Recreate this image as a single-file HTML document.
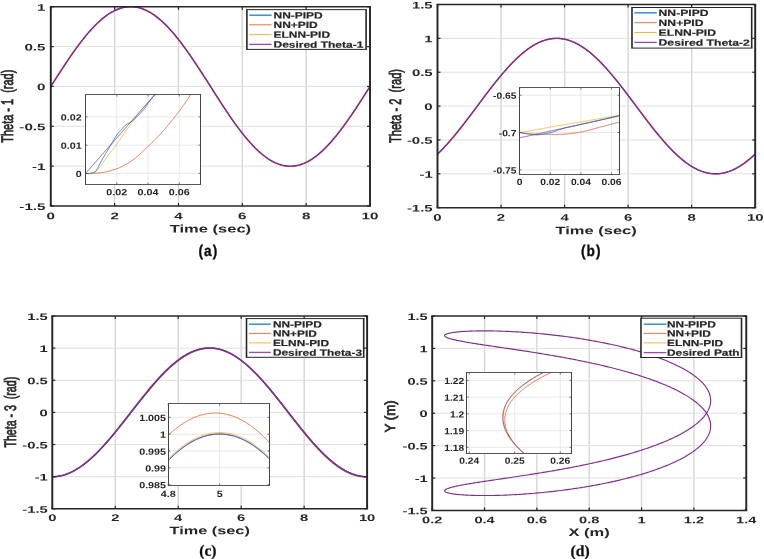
<!DOCTYPE html>
<html lang="en">
<head>
<meta charset="utf-8">
<title>Joint tracking results</title>
<style>
html,body{margin:0;padding:0;background:#fff;}
body{width:764px;height:559px;overflow:hidden;}
svg{display:block;font-family:"Liberation Sans", Arial, Helvetica, sans-serif;text-rendering:geometricPrecision;}
</style>
</head>
<body>
<svg width="764" height="559" viewBox="0 0 764 559">
<defs><filter id="soft" x="-2%" y="-2%" width="104%" height="104%"><feGaussianBlur stdDeviation="0.45"/></filter></defs>
<rect width="764" height="559" fill="#fff"/>
<g filter="url(#soft)">
<rect x="50.8" y="6.75" width="319.2" height="199.25" fill="#fff"/>
<line x1="114.64" y1="6.75" x2="114.64" y2="206" stroke="#d5d5d5" stroke-width="1.38"/>
<line x1="178.48" y1="6.75" x2="178.48" y2="206" stroke="#d5d5d5" stroke-width="1.38"/>
<line x1="242.32" y1="6.75" x2="242.32" y2="206" stroke="#d5d5d5" stroke-width="1.38"/>
<line x1="306.16" y1="6.75" x2="306.16" y2="206" stroke="#d5d5d5" stroke-width="1.38"/>
<line x1="50.8" y1="166.15" x2="370" y2="166.15" stroke="#dfdfdf" stroke-width="1"/>
<line x1="50.8" y1="126.3" x2="370" y2="126.3" stroke="#dfdfdf" stroke-width="1"/>
<line x1="50.8" y1="86.45" x2="370" y2="86.45" stroke="#dfdfdf" stroke-width="1"/>
<line x1="50.8" y1="46.6" x2="370" y2="46.6" stroke="#dfdfdf" stroke-width="1"/>
<clipPath id="c1"><rect x="50.8" y="6.75" width="319.2" height="199.25"/></clipPath>
<g clip-path="url(#c1)">
<polyline points="50.8,86.77 51.44,85.76 52.08,84.76 52.72,83.76 53.35,82.75 53.99,81.75 54.63,80.75 55.27,79.74 55.91,78.74 56.55,77.75 57.18,76.75 57.82,75.75 58.46,74.76 59.1,73.76 59.74,72.77 60.38,71.78 61.01,70.8 61.65,69.81 62.29,68.83 62.93,67.85 63.57,66.88 64.21,65.91 64.84,64.94 65.48,63.97 66.12,63.01 66.76,62.05 67.4,61.1 68.04,60.15 68.68,59.2 69.31,58.26 69.95,57.32 70.59,56.39 71.23,55.46 71.87,54.53 72.51,53.62 73.14,52.7 73.78,51.79 74.42,50.89 75.06,49.99 75.7,49.1 76.34,48.22 76.97,47.34 77.61,46.47 78.25,45.6 78.89,44.74 79.53,43.89 80.17,43.04 80.8,42.2 81.44,41.37 82.08,40.54 82.72,39.72 83.36,38.91 84,38.11 84.64,37.31 85.27,36.52 85.91,35.74 86.55,34.97 87.19,34.2 87.83,33.45 88.47,32.7 89.1,31.96 89.74,31.23 90.38,30.51 91.02,29.79 91.66,29.09 92.3,28.4 92.93,27.71 93.57,27.03 94.21,26.37 94.85,25.71 95.49,25.06 96.13,24.42 96.76,23.79 97.4,23.17 98.04,22.56 98.68,21.97 99.32,21.38 99.96,20.8 100.6,20.23 101.23,19.67 101.87,19.13 102.51,18.59 103.15,18.06 103.79,17.55 104.43,17.05 105.06,16.55 105.7,16.07 106.34,15.6 106.98,15.14 107.62,14.69 108.26,14.25 108.89,13.83 109.53,13.41 110.17,13.01 110.81,12.62 111.45,12.24 112.09,11.87 112.72,11.52 113.36,11.17 114,10.84 114.64,10.52 115.28,10.21 115.92,9.92 116.56,9.63 117.19,9.36 117.83,9.1 118.47,8.85 119.11,8.62 119.75,8.4 120.39,8.18 121.02,7.99 121.66,7.8 122.3,7.63 122.94,7.47 123.58,7.32 124.22,7.18 124.85,7.06 125.49,6.95 126.13,6.85 126.77,6.76 127.41,6.69 128.05,6.63 128.68,6.58 129.32,6.54 129.96,6.52 130.6,6.51 131.24,6.51 131.88,6.53 132.52,6.56 133.15,6.6 133.79,6.65 134.43,6.71 135.07,6.79 135.71,6.88 136.35,6.99 136.98,7.1 137.62,7.23 138.26,7.37 138.9,7.52 139.54,7.69 140.18,7.87 140.81,8.06 141.45,8.26 142.09,8.48 142.73,8.7 143.37,8.94 144.01,9.2 144.64,9.46 145.28,9.74 145.92,10.02 146.56,10.32 147.2,10.64 147.84,10.96 148.48,11.3 149.11,11.65 149.75,12.01 150.39,12.38 151.03,12.76 151.67,13.16 152.31,13.56 152.94,13.98 153.58,14.41 154.22,14.85 154.86,15.31 155.5,15.77 156.14,16.25 156.77,16.73 157.41,17.23 158.05,17.74 158.69,18.25 159.33,18.78 159.97,19.32 160.6,19.88 161.24,20.44 161.88,21.01 162.52,21.59 163.16,22.18 163.8,22.79 164.44,23.4 165.07,24.02 165.71,24.65 166.35,25.29 166.99,25.95 167.63,26.61 168.27,27.28 168.9,27.96 169.54,28.65 170.18,29.35 170.82,30.05 171.46,30.77 172.1,31.5 172.73,32.23 173.37,32.97 174.01,33.72 174.65,34.48 175.29,35.25 175.93,36.02 176.56,36.81 177.2,37.6 177.84,38.4 178.48,39.21 179.12,40.02 179.76,40.84 180.4,41.67 181.03,42.5 181.67,43.35 182.31,44.2 182.95,45.05 183.59,45.92 184.23,46.78 184.86,47.66 185.5,48.54 186.14,49.43 186.78,50.32 187.42,51.22 188.06,52.13 188.69,53.04 189.33,53.95 189.97,54.87 190.61,55.8 191.25,56.73 191.89,57.66 192.52,58.6 193.16,59.54 193.8,60.49 194.44,61.44 195.08,62.4 195.72,63.36 196.36,64.32 196.99,65.29 197.63,66.26 198.27,67.23 198.91,68.21 199.55,69.19 200.19,70.17 200.82,71.16 201.46,72.14 202.1,73.13 202.74,74.13 203.38,75.12 204.02,76.11 204.65,77.11 205.29,78.11 205.93,79.11 206.57,80.11 207.21,81.11 207.85,82.12 208.48,83.12 209.12,84.12 209.76,85.13 210.4,86.13 211.04,87.14 211.68,88.14 212.32,89.14 212.95,90.15 213.59,91.15 214.23,92.15 214.87,93.16 215.51,94.16 216.15,95.15 216.78,96.15 217.42,97.15 218.06,98.14 218.7,99.14 219.34,100.13 219.98,101.12 220.61,102.1 221.25,103.09 221.89,104.07 222.53,105.05 223.17,106.02 223.81,106.99 224.44,107.96 225.08,108.93 225.72,109.89 226.36,110.85 227,111.8 227.64,112.75 228.28,113.7 228.91,114.64 229.55,115.58 230.19,116.51 230.83,117.44 231.47,118.37 232.11,119.28 232.74,120.2 233.38,121.11 234.02,122.01 234.66,122.91 235.3,123.8 235.94,124.68 236.57,125.56 237.21,126.43 237.85,127.3 238.49,128.16 239.13,129.01 239.77,129.86 240.4,130.7 241.04,131.53 241.68,132.36 242.32,133.18 242.96,133.99 243.6,134.79 244.24,135.59 244.87,136.38 245.51,137.16 246.15,137.93 246.79,138.7 247.43,139.45 248.07,140.2 248.7,140.94 249.34,141.67 249.98,142.39 250.62,143.11 251.26,143.81 251.9,144.5 252.53,145.19 253.17,145.87 253.81,146.53 254.45,147.19 255.09,147.84 255.73,148.48 256.36,149.11 257,149.73 257.64,150.34 258.28,150.93 258.92,151.52 259.56,152.1 260.2,152.67 260.83,153.23 261.47,153.77 262.11,154.31 262.75,154.84 263.39,155.35 264.03,155.85 264.66,156.35 265.3,156.83 265.94,157.3 266.58,157.76 267.22,158.21 267.86,158.65 268.49,159.07 269.13,159.49 269.77,159.89 270.41,160.28 271.05,160.66 271.69,161.03 272.32,161.38 272.96,161.73 273.6,162.06 274.24,162.38 274.88,162.69 275.52,162.98 276.16,163.27 276.79,163.54 277.43,163.8 278.07,164.05 278.71,164.28 279.35,164.5 279.99,164.72 280.62,164.91 281.26,165.1 281.9,165.27 282.54,165.43 283.18,165.58 283.82,165.72 284.45,165.84 285.09,165.95 285.73,166.05 286.37,166.14 287.01,166.21 287.65,166.27 288.28,166.32 288.92,166.36 289.56,166.38 290.2,166.39 290.84,166.39 291.48,166.37 292.12,166.34 292.75,166.3 293.39,166.25 294.03,166.19 294.67,166.11 295.31,166.02 295.95,165.91 296.58,165.8 297.22,165.67 297.86,165.53 298.5,165.38 299.14,165.21 299.78,165.03 300.41,164.84 301.05,164.64 301.69,164.42 302.33,164.2 302.97,163.96 303.61,163.7 304.24,163.44 304.88,163.16 305.52,162.88 306.16,162.58 306.8,162.26 307.44,161.94 308.08,161.6 308.71,161.25 309.35,160.89 309.99,160.52 310.63,160.14 311.27,159.74 311.91,159.34 312.54,158.92 313.18,158.49 313.82,158.05 314.46,157.59 315.1,157.13 315.74,156.65 316.37,156.17 317.01,155.67 317.65,155.16 318.29,154.65 318.93,154.12 319.57,153.58 320.2,153.02 320.84,152.46 321.48,151.89 322.12,151.31 322.76,150.72 323.4,150.11 324.04,149.5 324.67,148.88 325.31,148.25 325.95,147.61 326.59,146.95 327.23,146.29 327.87,145.62 328.5,144.94 329.14,144.25 329.78,143.55 330.42,142.85 331.06,142.13 331.7,141.4 332.33,140.67 332.97,139.93 333.61,139.18 334.25,138.42 334.89,137.65 335.53,136.88 336.16,136.09 336.8,135.3 337.44,134.5 338.08,133.69 338.72,132.88 339.36,132.06 340,131.23 340.63,130.4 341.27,129.55 341.91,128.7 342.55,127.85 343.19,126.98 343.83,126.12 344.46,125.24 345.1,124.36 345.74,123.47 346.38,122.58 347.02,121.68 347.66,120.77 348.29,119.86 348.93,118.95 349.57,118.03 350.21,117.1 350.85,116.17 351.49,115.24 352.12,114.3 352.76,113.36 353.4,112.41 354.04,111.46 354.68,110.5 355.32,109.54 355.96,108.58 356.59,107.61 357.23,106.64 357.87,105.67 358.51,104.69 359.15,103.71 359.79,102.73 360.42,101.74 361.06,100.76 361.7,99.77 362.34,98.77 362.98,97.78 363.62,96.79 364.25,95.79 364.89,94.79 365.53,93.79 366.17,92.79 366.81,91.79 367.45,90.78 368.08,89.78 368.72,88.78 369.36,87.77 370,86.77" fill="none" stroke="#D95319" stroke-width="1.2" stroke-linejoin="round"/>
<polyline points="50.8,86.45 51.44,85.45 52.08,84.45 52.72,83.45 53.35,82.45 53.99,81.45 54.63,80.45 55.27,79.45 55.91,78.45 56.55,77.46 57.18,76.46 57.82,75.47 58.46,74.48 59.1,73.49 59.74,72.5 60.38,71.52 61.01,70.53 61.65,69.55 62.29,68.58 62.93,67.6 63.57,66.63 64.21,65.66 64.84,64.7 65.48,63.73 66.12,62.78 66.76,61.82 67.4,60.87 68.04,59.92 68.68,58.98 69.31,58.04 69.95,57.11 70.59,56.18 71.23,55.26 71.87,54.34 72.51,53.42 73.14,52.52 73.78,51.61 74.42,50.71 75.06,49.82 75.7,48.93 76.34,48.05 76.97,47.18 77.61,46.31 78.25,45.45 78.89,44.59 79.53,43.74 80.17,42.9 80.8,42.07 81.44,41.24 82.08,40.42 82.72,39.6 83.36,38.8 84,38 84.64,37.21 85.27,36.42 85.91,35.65 86.55,34.88 87.19,34.12 87.83,33.37 88.47,32.63 89.1,31.89 89.74,31.17 90.38,30.45 91.02,29.74 91.66,29.04 92.3,28.35 92.93,27.67 93.57,27 94.21,26.34 94.85,25.68 95.49,25.04 96.13,24.41 96.76,23.78 97.4,23.17 98.04,22.57 98.68,21.97 99.32,21.39 99.96,20.81 100.6,20.25 101.23,19.7 101.87,19.16 102.51,18.63 103.15,18.11 103.79,17.6 104.43,17.1 105.06,16.61 105.7,16.13 106.34,15.67 106.98,15.21 107.62,14.77 108.26,14.34 108.89,13.91 109.53,13.51 110.17,13.11 110.81,12.72 111.45,12.35 112.09,11.98 112.72,11.63 113.36,11.29 114,10.97 114.64,10.65 115.28,10.35 115.92,10.06 116.56,9.78 117.19,9.51 117.83,9.25 118.47,9.01 119.11,8.78 119.75,8.56 120.39,8.36 121.02,8.16 121.66,7.98 122.3,7.81 122.94,7.65 123.58,7.51 124.22,7.38 124.85,7.26 125.49,7.15 126.13,7.06 126.77,6.98 127.41,6.91 128.05,6.85 128.68,6.81 129.32,6.78 129.96,6.76 130.6,6.75 131.24,6.76 131.88,6.78 132.52,6.81 133.15,6.85 133.79,6.91 134.43,6.98 135.07,7.06 135.71,7.15 136.35,7.26 136.98,7.38 137.62,7.51 138.26,7.65 138.9,7.81 139.54,7.98 140.18,8.16 140.81,8.36 141.45,8.56 142.09,8.78 142.73,9.01 143.37,9.25 144.01,9.51 144.64,9.78 145.28,10.06 145.92,10.35 146.56,10.65 147.2,10.97 147.84,11.29 148.48,11.63 149.11,11.98 149.75,12.35 150.39,12.72 151.03,13.11 151.67,13.51 152.31,13.91 152.94,14.34 153.58,14.77 154.22,15.21 154.86,15.67 155.5,16.13 156.14,16.61 156.77,17.1 157.41,17.6 158.05,18.11 158.69,18.63 159.33,19.16 159.97,19.7 160.6,20.25 161.24,20.81 161.88,21.39 162.52,21.97 163.16,22.57 163.8,23.17 164.44,23.78 165.07,24.41 165.71,25.04 166.35,25.68 166.99,26.34 167.63,27 168.27,27.67 168.9,28.35 169.54,29.04 170.18,29.74 170.82,30.45 171.46,31.17 172.1,31.89 172.73,32.63 173.37,33.37 174.01,34.12 174.65,34.88 175.29,35.65 175.93,36.42 176.56,37.21 177.2,38 177.84,38.8 178.48,39.6 179.12,40.42 179.76,41.24 180.4,42.07 181.03,42.9 181.67,43.74 182.31,44.59 182.95,45.45 183.59,46.31 184.23,47.18 184.86,48.05 185.5,48.93 186.14,49.82 186.78,50.71 187.42,51.61 188.06,52.52 188.69,53.42 189.33,54.34 189.97,55.26 190.61,56.18 191.25,57.11 191.89,58.04 192.52,58.98 193.16,59.92 193.8,60.87 194.44,61.82 195.08,62.78 195.72,63.73 196.36,64.7 196.99,65.66 197.63,66.63 198.27,67.6 198.91,68.58 199.55,69.55 200.19,70.53 200.82,71.52 201.46,72.5 202.1,73.49 202.74,74.48 203.38,75.47 204.02,76.46 204.65,77.46 205.29,78.45 205.93,79.45 206.57,80.45 207.21,81.45 207.85,82.45 208.48,83.45 209.12,84.45 209.76,85.45 210.4,86.45 211.04,87.45 211.68,88.45 212.32,89.45 212.95,90.45 213.59,91.45 214.23,92.45 214.87,93.45 215.51,94.45 216.15,95.44 216.78,96.44 217.42,97.43 218.06,98.42 218.7,99.41 219.34,100.4 219.98,101.38 220.61,102.37 221.25,103.35 221.89,104.32 222.53,105.3 223.17,106.27 223.81,107.24 224.44,108.2 225.08,109.17 225.72,110.12 226.36,111.08 227,112.03 227.64,112.98 228.28,113.92 228.91,114.86 229.55,115.79 230.19,116.72 230.83,117.64 231.47,118.56 232.11,119.48 232.74,120.38 233.38,121.29 234.02,122.19 234.66,123.08 235.3,123.97 235.94,124.85 236.57,125.72 237.21,126.59 237.85,127.45 238.49,128.31 239.13,129.16 239.77,130 240.4,130.83 241.04,131.66 241.68,132.48 242.32,133.3 242.96,134.1 243.6,134.9 244.24,135.69 244.87,136.48 245.51,137.25 246.15,138.02 246.79,138.78 247.43,139.53 248.07,140.27 248.7,141.01 249.34,141.73 249.98,142.45 250.62,143.16 251.26,143.86 251.9,144.55 252.53,145.23 253.17,145.9 253.81,146.56 254.45,147.22 255.09,147.86 255.73,148.49 256.36,149.12 257,149.73 257.64,150.33 258.28,150.93 258.92,151.51 259.56,152.09 260.2,152.65 260.83,153.2 261.47,153.74 262.11,154.27 262.75,154.79 263.39,155.3 264.03,155.8 264.66,156.29 265.3,156.77 265.94,157.23 266.58,157.69 267.22,158.13 267.86,158.56 268.49,158.99 269.13,159.39 269.77,159.79 270.41,160.18 271.05,160.55 271.69,160.92 272.32,161.27 272.96,161.61 273.6,161.93 274.24,162.25 274.88,162.55 275.52,162.84 276.16,163.12 276.79,163.39 277.43,163.65 278.07,163.89 278.71,164.12 279.35,164.34 279.99,164.54 280.62,164.74 281.26,164.92 281.9,165.09 282.54,165.25 283.18,165.39 283.82,165.52 284.45,165.64 285.09,165.75 285.73,165.84 286.37,165.92 287.01,165.99 287.65,166.05 288.28,166.09 288.92,166.12 289.56,166.14 290.2,166.15 290.84,166.14 291.48,166.12 292.12,166.09 292.75,166.05 293.39,165.99 294.03,165.92 294.67,165.84 295.31,165.75 295.95,165.64 296.58,165.52 297.22,165.39 297.86,165.25 298.5,165.09 299.14,164.92 299.78,164.74 300.41,164.54 301.05,164.34 301.69,164.12 302.33,163.89 302.97,163.65 303.61,163.39 304.24,163.12 304.88,162.84 305.52,162.55 306.16,162.25 306.8,161.93 307.44,161.61 308.08,161.27 308.71,160.92 309.35,160.55 309.99,160.18 310.63,159.79 311.27,159.39 311.91,158.99 312.54,158.56 313.18,158.13 313.82,157.69 314.46,157.23 315.1,156.77 315.74,156.29 316.37,155.8 317.01,155.3 317.65,154.79 318.29,154.27 318.93,153.74 319.57,153.2 320.2,152.65 320.84,152.09 321.48,151.51 322.12,150.93 322.76,150.33 323.4,149.73 324.04,149.12 324.67,148.49 325.31,147.86 325.95,147.22 326.59,146.56 327.23,145.9 327.87,145.23 328.5,144.55 329.14,143.86 329.78,143.16 330.42,142.45 331.06,141.73 331.7,141.01 332.33,140.27 332.97,139.53 333.61,138.78 334.25,138.02 334.89,137.25 335.53,136.48 336.16,135.69 336.8,134.9 337.44,134.1 338.08,133.3 338.72,132.48 339.36,131.66 340,130.83 340.63,130 341.27,129.16 341.91,128.31 342.55,127.45 343.19,126.59 343.83,125.72 344.46,124.85 345.1,123.97 345.74,123.08 346.38,122.19 347.02,121.29 347.66,120.38 348.29,119.48 348.93,118.56 349.57,117.64 350.21,116.72 350.85,115.79 351.49,114.86 352.12,113.92 352.76,112.98 353.4,112.03 354.04,111.08 354.68,110.12 355.32,109.17 355.96,108.2 356.59,107.24 357.23,106.27 357.87,105.3 358.51,104.32 359.15,103.35 359.79,102.37 360.42,101.38 361.06,100.4 361.7,99.41 362.34,98.42 362.98,97.43 363.62,96.44 364.25,95.44 364.89,94.45 365.53,93.45 366.17,92.45 366.81,91.45 367.45,90.45 368.08,89.45 368.72,88.45 369.36,87.45 370,86.45" fill="none" stroke="#7E2F8E" stroke-width="1.45" stroke-linejoin="round"/>
</g>
<line x1="50.8" y1="206" x2="50.8" y2="203" stroke="#262626" stroke-width="1.2"/>
<line x1="50.8" y1="6.75" x2="50.8" y2="9.75" stroke="#262626" stroke-width="1.2"/>
<line x1="114.64" y1="206" x2="114.64" y2="203" stroke="#262626" stroke-width="1.2"/>
<line x1="114.64" y1="6.75" x2="114.64" y2="9.75" stroke="#262626" stroke-width="1.2"/>
<line x1="178.48" y1="206" x2="178.48" y2="203" stroke="#262626" stroke-width="1.2"/>
<line x1="178.48" y1="6.75" x2="178.48" y2="9.75" stroke="#262626" stroke-width="1.2"/>
<line x1="242.32" y1="206" x2="242.32" y2="203" stroke="#262626" stroke-width="1.2"/>
<line x1="242.32" y1="6.75" x2="242.32" y2="9.75" stroke="#262626" stroke-width="1.2"/>
<line x1="306.16" y1="206" x2="306.16" y2="203" stroke="#262626" stroke-width="1.2"/>
<line x1="306.16" y1="6.75" x2="306.16" y2="9.75" stroke="#262626" stroke-width="1.2"/>
<line x1="370" y1="206" x2="370" y2="203" stroke="#262626" stroke-width="1.2"/>
<line x1="370" y1="6.75" x2="370" y2="9.75" stroke="#262626" stroke-width="1.2"/>
<line x1="50.8" y1="206" x2="53.8" y2="206" stroke="#262626" stroke-width="1.2"/>
<line x1="370" y1="206" x2="367" y2="206" stroke="#262626" stroke-width="1.2"/>
<line x1="50.8" y1="166.15" x2="53.8" y2="166.15" stroke="#262626" stroke-width="1.2"/>
<line x1="370" y1="166.15" x2="367" y2="166.15" stroke="#262626" stroke-width="1.2"/>
<line x1="50.8" y1="126.3" x2="53.8" y2="126.3" stroke="#262626" stroke-width="1.2"/>
<line x1="370" y1="126.3" x2="367" y2="126.3" stroke="#262626" stroke-width="1.2"/>
<line x1="50.8" y1="86.45" x2="53.8" y2="86.45" stroke="#262626" stroke-width="1.2"/>
<line x1="370" y1="86.45" x2="367" y2="86.45" stroke="#262626" stroke-width="1.2"/>
<line x1="50.8" y1="46.6" x2="53.8" y2="46.6" stroke="#262626" stroke-width="1.2"/>
<line x1="370" y1="46.6" x2="367" y2="46.6" stroke="#262626" stroke-width="1.2"/>
<line x1="50.8" y1="6.75" x2="53.8" y2="6.75" stroke="#262626" stroke-width="1.2"/>
<line x1="370" y1="6.75" x2="367" y2="6.75" stroke="#262626" stroke-width="1.2"/>
<line x1="49.82" y1="6.75" x2="370.98" y2="6.75" stroke="#262626" stroke-width="1.5"/>
<line x1="49.82" y1="206" x2="370.98" y2="206" stroke="#262626" stroke-width="1.5"/>
<line x1="50.8" y1="6.75" x2="50.8" y2="206" stroke="#262626" stroke-width="1.95"/>
<line x1="370" y1="6.75" x2="370" y2="206" stroke="#262626" stroke-width="1.95"/>
<text transform="translate(50.8 219.14) rotate(0.03) scale(1.58 1)" font-size="9.6" font-weight="bold" text-anchor="middle" fill="#262626">0</text>
<text transform="translate(114.64 219.14) rotate(0.03) scale(1.58 1)" font-size="9.6" font-weight="bold" text-anchor="middle" fill="#262626">2</text>
<text transform="translate(178.48 219.14) rotate(0.03) scale(1.58 1)" font-size="9.6" font-weight="bold" text-anchor="middle" fill="#262626">4</text>
<text transform="translate(242.32 219.14) rotate(0.03) scale(1.58 1)" font-size="9.6" font-weight="bold" text-anchor="middle" fill="#262626">6</text>
<text transform="translate(306.16 219.14) rotate(0.03) scale(1.58 1)" font-size="9.6" font-weight="bold" text-anchor="middle" fill="#262626">8</text>
<text transform="translate(370 219.14) rotate(0.03) scale(1.58 1)" font-size="9.6" font-weight="bold" text-anchor="middle" fill="#262626">10</text>
<text transform="translate(45.5 209.89) rotate(0.03) scale(1.58 1)" font-size="9.6" font-weight="bold" text-anchor="end" fill="#262626">-1.5</text>
<text transform="translate(45.5 170.04) rotate(0.03) scale(1.58 1)" font-size="9.6" font-weight="bold" text-anchor="end" fill="#262626">-1</text>
<text transform="translate(45.5 130.19) rotate(0.03) scale(1.58 1)" font-size="9.6" font-weight="bold" text-anchor="end" fill="#262626">-0.5</text>
<text transform="translate(45.5 90.34) rotate(0.03) scale(1.58 1)" font-size="9.6" font-weight="bold" text-anchor="end" fill="#262626">0</text>
<text transform="translate(45.5 50.49) rotate(0.03) scale(1.58 1)" font-size="9.6" font-weight="bold" text-anchor="end" fill="#262626">0.5</text>
<text transform="translate(45.5 10.64) rotate(0.03) scale(1.58 1)" font-size="9.6" font-weight="bold" text-anchor="end" fill="#262626">1</text>
<text transform="translate(210.4 232.5) rotate(0.03) scale(1.5 1)" font-size="11" font-weight="bold" text-anchor="middle" fill="#262626">Time (sec)</text>
<text transform="translate(13.4 106.2) rotate(-90) scale(0.66 1)" font-size="16.6" font-weight="normal" text-anchor="middle" fill="#262626" stroke="#262626" stroke-width="0.75">Theta - 1&#160;&#160;(rad)</text>
<rect x="246.9" y="9.65" width="119.2" height="39.75" fill="#fff"/>
<line x1="246.1" y1="9.65" x2="366.9" y2="9.65" stroke="#262626" stroke-width="1"/>
<line x1="246.1" y1="49.4" x2="366.9" y2="49.4" stroke="#262626" stroke-width="1"/>
<line x1="246.9" y1="9.65" x2="246.9" y2="49.4" stroke="#262626" stroke-width="1.6"/>
<line x1="366.1" y1="9.65" x2="366.1" y2="49.4" stroke="#262626" stroke-width="1.6"/>
<line x1="249.2" y1="15.2" x2="271.6" y2="15.2" stroke="#3a8fd0" stroke-width="1.5" stroke-opacity="1"/>
<text transform="translate(273.5 18.42) rotate(0.03) scale(1.33 1)" font-size="9" font-weight="bold" text-anchor="start" fill="#262626" stroke="#262626" stroke-width="0.18">NN-PIPD</text>
<line x1="249.2" y1="24.8" x2="271.6" y2="24.8" stroke="#D95319" stroke-width="0.8" stroke-opacity="1"/>
<text transform="translate(273.5 28.02) rotate(0.03) scale(1.33 1)" font-size="9" font-weight="bold" text-anchor="start" fill="#262626" stroke="#262626" stroke-width="0.18">NN+PID</text>
<line x1="249.2" y1="34.6" x2="271.6" y2="34.6" stroke="#EDB120" stroke-width="0.9" stroke-opacity="1"/>
<text transform="translate(273.5 37.82) rotate(0.03) scale(1.33 1)" font-size="9" font-weight="bold" text-anchor="start" fill="#262626" stroke="#262626" stroke-width="0.18">ELNN-PID</text>
<line x1="249.2" y1="44.4" x2="271.6" y2="44.4" stroke="#9450a5" stroke-width="1.3" stroke-opacity="1"/>
<text transform="translate(273.5 47.62) rotate(0.03) scale(1.33 1)" font-size="9" font-weight="bold" text-anchor="start" fill="#262626" stroke="#262626" stroke-width="0.18">Desired Theta-1</text>
<rect x="85.5" y="94.5" width="115" height="90" fill="#fff"/>
<line x1="116.8" y1="94.5" x2="116.8" y2="184.5" stroke="#e2e2e2" stroke-width="0.8"/>
<line x1="148.05" y1="94.5" x2="148.05" y2="184.5" stroke="#e2e2e2" stroke-width="0.8"/>
<line x1="179.3" y1="94.5" x2="179.3" y2="184.5" stroke="#e2e2e2" stroke-width="0.8"/>
<line x1="85.5" y1="173.4" x2="200.5" y2="173.4" stroke="#e2e2e2" stroke-width="0.8"/>
<line x1="85.5" y1="145.15" x2="200.5" y2="145.15" stroke="#e2e2e2" stroke-width="0.8"/>
<line x1="85.5" y1="116.9" x2="200.5" y2="116.9" stroke="#e2e2e2" stroke-width="0.8"/>
<clipPath id="c2"><rect x="85.5" y="94.5" width="115" height="90"/></clipPath>
<g clip-path="url(#c2)">
<polyline points="85.55,173.4 86.14,173.4 86.73,173.4 87.32,173.39 87.91,173.38 88.49,173.37 89.08,173.36 89.67,173.34 90.26,173.32 90.85,173.31 91.44,173.29 92.03,173.26 92.62,173.24 93.21,173.21 93.79,173.19 94.38,173.16 94.97,173.13 95.56,173.09 96.15,173.06 96.74,173.03 97.33,172.99 97.92,172.96 98.51,172.92 99.09,172.88 99.68,172.84 100.27,172.8 100.86,172.74 101.45,172.68 102.04,172.61 102.63,172.53 103.22,172.44 103.81,172.34 104.39,172.23 104.98,172.11 105.57,171.99 106.16,171.86 106.75,171.73 107.34,171.59 107.93,171.44 108.52,171.29 109.11,171.13 109.69,170.97 110.28,170.81 110.87,170.64 111.46,170.46 112.05,170.29 112.64,170.11 113.23,169.93 113.82,169.75 114.41,169.56 114.99,169.38 115.58,169.19 116.17,169 116.76,168.79 117.35,168.57 117.94,168.34 118.53,168.1 119.12,167.86 119.71,167.6 120.29,167.34 120.88,167.06 121.47,166.78 122.06,166.49 122.65,166.19 123.24,165.89 123.83,165.57 124.42,165.25 125.01,164.93 125.59,164.6 126.18,164.26 126.77,163.91 127.36,163.56 127.95,163.21 128.54,162.85 129.13,162.49 129.72,162.12 130.31,161.75 130.89,161.37 131.48,160.99 132.07,160.58 132.66,160.16 133.25,159.73 133.84,159.28 134.43,158.82 135.02,158.34 135.6,157.86 136.19,157.36 136.78,156.85 137.37,156.33 137.96,155.81 138.55,155.28 139.14,154.74 139.73,154.19 140.32,153.64 140.9,153.09 141.49,152.54 142.08,151.98 142.67,151.42 143.26,150.86 143.85,150.3 144.44,149.75 145.03,149.19 145.62,148.64 146.2,148.09 146.79,147.55 147.38,147 147.97,146.45 148.56,145.9 149.15,145.35 149.74,144.79 150.33,144.23 150.92,143.67 151.5,143.11 152.09,142.54 152.68,141.96 153.27,141.39 153.86,140.81 154.45,140.22 155.04,139.63 155.63,139.04 156.22,138.44 156.8,137.83 157.39,137.22 157.98,136.61 158.57,135.99 159.16,135.36 159.75,134.73 160.34,134.09 160.93,133.44 161.52,132.8 162.1,132.14 162.69,131.49 163.28,130.83 163.87,130.16 164.46,129.49 165.05,128.81 165.64,128.13 166.23,127.44 166.82,126.75 167.4,126.06 167.99,125.36 168.58,124.66 169.17,123.95 169.76,123.24 170.35,122.52 170.94,121.8 171.53,121.07 172.12,120.34 172.7,119.61 173.29,118.87 173.88,118.13 174.47,117.39 175.06,116.64 175.65,115.88 176.24,115.12 176.83,114.36 177.42,113.59 178,112.81 178.59,112.03 179.18,111.24 179.77,110.44 180.36,109.63 180.95,108.82 181.54,108.01 182.13,107.19 182.72,106.36 183.3,105.53 183.89,104.7 184.48,103.86 185.07,103.01 185.66,102.17 186.25,101.31 186.84,100.46 187.43,99.6 188.02,98.74 188.6,97.87 189.19,97 189.78,96.13 190.37,95.26 190.96,94.39 191.55,93.51 192.14,92.63 192.73,91.74 193.32,90.85 193.9,89.95 194.49,89.04 195.08,88.14 195.67,87.22 196.26,86.31 196.85,85.39 197.44,84.46 198.03,83.53 198.62,82.59 199.2,81.65 199.79,80.71 200.38,79.76 200.97,78.81 201.56,77.86 202.15,76.9 202.74,75.94" fill="none" stroke="#D95319" stroke-width="0.75" stroke-linejoin="round"/>
<polyline points="85.55,173.4 86.14,173.52 86.73,173.62 87.32,173.69 87.91,173.73 88.49,173.74 89.08,173.71 89.67,173.65 90.26,173.55 90.85,173.41 91.44,173.22 92.03,172.99 92.62,172.76 93.21,172.53 93.79,172.3 94.38,172.05 94.97,171.77 95.56,171.44 96.15,171.07 96.74,170.63 97.33,170.12 97.92,169.52 98.51,168.84 99.09,168.12 99.68,167.35 100.27,166.56 100.86,165.74 101.45,164.89 102.04,164.03 102.63,163.16 103.22,162.27 103.81,161.39 104.39,160.51 104.98,159.63 105.57,158.76 106.16,157.92 106.75,157.09 107.34,156.29 107.93,155.52 108.52,154.75 109.11,154 109.69,153.25 110.28,152.5 110.87,151.76 111.46,151.02 112.05,150.28 112.64,149.53 113.23,148.78 113.82,148.03 114.41,147.27 114.99,146.5 115.58,145.71 116.17,144.91 116.76,144.09 117.35,143.26 117.94,142.42 118.53,141.58 119.12,140.72 119.71,139.86 120.29,139.01 120.88,138.15 121.47,137.29 122.06,136.45 122.65,135.6 123.24,134.77 123.83,133.95 124.42,133.14 125.01,132.32 125.59,131.51 126.18,130.71 126.77,129.9 127.36,129.09 127.95,128.28 128.54,127.46 129.13,126.64 129.72,125.82 130.31,124.99 130.89,124.14 131.48,123.27 132.07,122.37 132.66,121.45 133.25,120.52 133.84,119.61 134.43,118.72 135.02,117.88 135.6,117.1 136.19,116.34 136.78,115.59 137.37,114.85 137.96,114.11 138.55,113.38 139.14,112.65 139.73,111.94 140.32,111.23 140.9,110.54 141.49,109.86 142.08,109.18 142.67,108.52 143.26,107.85 143.85,107.18 144.44,106.51 145.03,105.84 145.62,105.17 146.2,104.5 146.79,103.83 147.38,103.17 147.97,102.5 148.56,101.83 149.15,101.16 149.74,100.49 150.33,99.82 150.92,99.15 151.5,98.48 152.09,97.82 152.68,97.15 153.27,96.48 153.86,95.81 154.45,95.14 155.04,94.47 155.63,93.8 156.22,93.13 156.8,92.47 157.39,91.8 157.98,91.13 158.57,90.46 159.16,89.79 159.75,89.12 160.34,88.45 160.93,87.78 161.52,87.12 162.1,86.45 162.69,85.78 163.28,85.11 163.87,84.44 164.46,83.77 165.05,83.1 165.64,82.44 166.23,81.77 166.82,81.1 167.4,80.43 167.99,79.76 168.58,79.09 169.17,78.42 169.76,77.76 170.35,77.09 170.94,76.42 171.53,75.75 172.12,75.08 172.7,74.41 173.29,73.74 173.88,73.08 174.47,72.41 175.06,71.74 175.65,71.07 176.24,70.4 176.83,69.73 177.42,69.06 178,68.4 178.59,67.73 179.18,67.06 179.77,66.39 180.36,65.72 180.95,65.05 181.54,64.38 182.13,63.72 182.72,63.05 183.3,62.38 183.89,61.71 184.48,61.04 185.07,60.37 185.66,59.71 186.25,59.04 186.84,58.37 187.43,57.7 188.02,57.03 188.6,56.36 189.19,55.7 189.78,55.03 190.37,54.36 190.96,53.69 191.55,53.02 192.14,52.35 192.73,51.69 193.32,51.02 193.9,50.35 194.49,49.68 195.08,49.01 195.67,48.34 196.26,47.68 196.85,47.01 197.44,46.34 198.03,45.67 198.62,45 199.2,44.33 199.79,43.67 200.38,43 200.97,42.33 201.56,41.66 202.15,40.99 202.74,40.32" fill="none" stroke="#EDB120" stroke-width="0.75" stroke-linejoin="round"/>
<polyline points="85.55,173.4 86.14,173.51 86.73,173.6 87.32,173.65 87.91,173.68 88.49,173.68 89.08,173.65 89.67,173.58 90.26,173.49 90.85,173.36 91.44,173.2 92.03,173.01 92.62,172.85 93.21,172.69 93.79,172.51 94.38,172.25 94.97,171.87 95.56,171.34 96.15,170.61 96.74,169.68 97.33,168.6 97.92,167.43 98.51,166.21 99.09,165.02 99.68,163.9 100.27,162.86 100.86,161.82 101.45,160.8 102.04,159.78 102.63,158.76 103.22,157.75 103.81,156.75 104.39,155.75 104.98,154.75 105.57,153.75 106.16,152.75 106.75,151.76 107.34,150.76 107.93,149.76 108.52,148.77 109.11,147.77 109.69,146.78 110.28,145.79 110.87,144.8 111.46,143.82 112.05,142.84 112.64,141.86 113.23,140.85 113.82,139.81 114.41,138.76 114.99,137.74 115.58,136.75 116.17,135.81 116.76,134.95 117.35,134.18 117.94,133.5 118.53,132.83 119.12,132.16 119.71,131.49 120.29,130.82 120.88,130.16 121.47,129.49 122.06,128.82 122.65,128.15 123.24,127.48 123.83,126.81 124.42,126.14 125.01,125.5 125.59,124.96 126.18,124.52 126.77,124.14 127.36,123.82 127.95,123.53 128.54,123.26 129.13,122.98 129.72,122.67 130.31,122.32 130.89,121.9 131.48,121.45 132.07,121 132.66,120.53 133.25,120.06 133.84,119.57 134.43,119.06 135.02,118.52 135.6,117.96 136.19,117.39 136.78,116.82 137.37,116.24 137.96,115.66 138.55,115.08 139.14,114.49 139.73,113.89 140.32,113.29 140.9,112.67 141.49,112.05 142.08,111.41 142.67,110.77 143.26,110.11 143.85,109.41 144.44,108.66 145.03,107.86 145.62,107.01 146.2,106.15 146.79,105.26 147.38,104.37 147.97,103.5 148.56,102.64 149.15,101.82 149.74,101.03 150.33,100.27 150.92,99.5 151.5,98.74 152.09,97.98 152.68,97.24 153.27,96.52 153.86,95.82 154.45,95.14 155.04,94.47 155.63,93.8 156.22,93.13 156.8,92.47 157.39,91.8 157.98,91.13 158.57,90.46 159.16,89.79 159.75,89.12 160.34,88.45 160.93,87.78 161.52,87.12 162.1,86.45 162.69,85.78 163.28,85.11 163.87,84.44 164.46,83.77 165.05,83.1 165.64,82.44 166.23,81.77 166.82,81.1 167.4,80.43 167.99,79.76 168.58,79.09 169.17,78.42 169.76,77.76 170.35,77.09 170.94,76.42 171.53,75.75 172.12,75.08 172.7,74.41 173.29,73.74 173.88,73.08 174.47,72.41 175.06,71.74 175.65,71.07 176.24,70.4 176.83,69.73 177.42,69.06 178,68.4 178.59,67.73 179.18,67.06 179.77,66.39 180.36,65.72 180.95,65.05 181.54,64.38 182.13,63.72 182.72,63.05 183.3,62.38 183.89,61.71 184.48,61.04 185.07,60.37 185.66,59.71 186.25,59.04 186.84,58.37 187.43,57.7 188.02,57.03 188.6,56.36 189.19,55.7 189.78,55.03 190.37,54.36 190.96,53.69 191.55,53.02 192.14,52.35 192.73,51.69 193.32,51.02 193.9,50.35 194.49,49.68 195.08,49.01 195.67,48.34 196.26,47.68 196.85,47.01 197.44,46.34 198.03,45.67 198.62,45 199.2,44.33 199.79,43.67 200.38,43 200.97,42.33 201.56,41.66 202.15,40.99 202.74,40.32" fill="none" stroke="#0072BD" stroke-width="0.75" stroke-linejoin="round"/>
<polyline points="85.55,173.4 86.14,172.73 86.73,172.06 87.32,171.39 87.91,170.72 88.49,170.06 89.08,169.39 89.67,168.72 90.26,168.05 90.85,167.38 91.44,166.71 92.03,166.04 92.62,165.37 93.21,164.7 93.79,164.03 94.38,163.37 94.97,162.7 95.56,162.03 96.15,161.36 96.74,160.69 97.33,160.02 97.92,159.35 98.51,158.68 99.09,158.01 99.68,157.34 100.27,156.68 100.86,156.01 101.45,155.34 102.04,154.67 102.63,154 103.22,153.33 103.81,152.66 104.39,151.99 104.98,151.32 105.57,150.66 106.16,149.99 106.75,149.32 107.34,148.65 107.93,147.98 108.52,147.31 109.11,146.64 109.69,145.97 110.28,145.3 110.87,144.63 111.46,143.97 112.05,143.3 112.64,142.63 113.23,141.96 113.82,141.29 114.41,140.62 114.99,139.95 115.58,139.28 116.17,138.61 116.76,137.95 117.35,137.28 117.94,136.61 118.53,135.94 119.12,135.27 119.71,134.6 120.29,133.93 120.88,133.26 121.47,132.59 122.06,131.93 122.65,131.26 123.24,130.59 123.83,129.92 124.42,129.25 125.01,128.58 125.59,127.91 126.18,127.24 126.77,126.57 127.36,125.91 127.95,125.24 128.54,124.57 129.13,123.9 129.72,123.23 130.31,122.56 130.89,121.89 131.48,121.22 132.07,120.55 132.66,119.89 133.25,119.22 133.84,118.55 134.43,117.88 135.02,117.21 135.6,116.54 136.19,115.87 136.78,115.2 137.37,114.53 137.96,113.87 138.55,113.2 139.14,112.53 139.73,111.86 140.32,111.19 140.9,110.52 141.49,109.85 142.08,109.18 142.67,108.52 143.26,107.85 143.85,107.18 144.44,106.51 145.03,105.84 145.62,105.17 146.2,104.5 146.79,103.83 147.38,103.17 147.97,102.5 148.56,101.83 149.15,101.16 149.74,100.49 150.33,99.82 150.92,99.15 151.5,98.48 152.09,97.82 152.68,97.15 153.27,96.48 153.86,95.81 154.45,95.14 155.04,94.47 155.63,93.8 156.22,93.13 156.8,92.47 157.39,91.8 157.98,91.13 158.57,90.46 159.16,89.79 159.75,89.12 160.34,88.45 160.93,87.78 161.52,87.12 162.1,86.45 162.69,85.78 163.28,85.11 163.87,84.44 164.46,83.77 165.05,83.1 165.64,82.44 166.23,81.77 166.82,81.1 167.4,80.43 167.99,79.76 168.58,79.09 169.17,78.42 169.76,77.76 170.35,77.09 170.94,76.42 171.53,75.75 172.12,75.08 172.7,74.41 173.29,73.74 173.88,73.08 174.47,72.41 175.06,71.74 175.65,71.07 176.24,70.4 176.83,69.73 177.42,69.06 178,68.4 178.59,67.73 179.18,67.06 179.77,66.39 180.36,65.72 180.95,65.05 181.54,64.38 182.13,63.72 182.72,63.05 183.3,62.38 183.89,61.71 184.48,61.04 185.07,60.37 185.66,59.71 186.25,59.04 186.84,58.37 187.43,57.7 188.02,57.03 188.6,56.36 189.19,55.7 189.78,55.03 190.37,54.36 190.96,53.69 191.55,53.02 192.14,52.35 192.73,51.69 193.32,51.02 193.9,50.35 194.49,49.68 195.08,49.01 195.67,48.34 196.26,47.68 196.85,47.01 197.44,46.34 198.03,45.67 198.62,45 199.2,44.33 199.79,43.67 200.38,43 200.97,42.33 201.56,41.66 202.15,40.99 202.74,40.32" fill="none" stroke="#7E2F8E" stroke-width="0.75" stroke-linejoin="round"/>
</g>
<line x1="116.8" y1="184.5" x2="116.8" y2="182.5" stroke="#454545" stroke-width="0.72"/>
<line x1="116.8" y1="94.5" x2="116.8" y2="96.5" stroke="#454545" stroke-width="0.72"/>
<line x1="148.05" y1="184.5" x2="148.05" y2="182.5" stroke="#454545" stroke-width="0.72"/>
<line x1="148.05" y1="94.5" x2="148.05" y2="96.5" stroke="#454545" stroke-width="0.72"/>
<line x1="179.3" y1="184.5" x2="179.3" y2="182.5" stroke="#454545" stroke-width="0.72"/>
<line x1="179.3" y1="94.5" x2="179.3" y2="96.5" stroke="#454545" stroke-width="0.72"/>
<line x1="85.5" y1="173.4" x2="87.5" y2="173.4" stroke="#454545" stroke-width="0.72"/>
<line x1="200.5" y1="173.4" x2="198.5" y2="173.4" stroke="#454545" stroke-width="0.72"/>
<line x1="85.5" y1="145.15" x2="87.5" y2="145.15" stroke="#454545" stroke-width="0.72"/>
<line x1="200.5" y1="145.15" x2="198.5" y2="145.15" stroke="#454545" stroke-width="0.72"/>
<line x1="85.5" y1="116.9" x2="87.5" y2="116.9" stroke="#454545" stroke-width="0.72"/>
<line x1="200.5" y1="116.9" x2="198.5" y2="116.9" stroke="#454545" stroke-width="0.72"/>
<line x1="84.98" y1="94.5" x2="201.02" y2="94.5" stroke="#454545" stroke-width="0.9"/>
<line x1="84.98" y1="184.5" x2="201.02" y2="184.5" stroke="#454545" stroke-width="0.9"/>
<line x1="85.5" y1="94.5" x2="85.5" y2="184.5" stroke="#454545" stroke-width="1.03"/>
<line x1="200.5" y1="94.5" x2="200.5" y2="184.5" stroke="#454545" stroke-width="1.03"/>
<text transform="translate(116.8 195.22) rotate(0.03) scale(1.19 1)" font-size="9" font-weight="bold" text-anchor="middle" fill="#262626">0.02</text>
<text transform="translate(148.05 195.22) rotate(0.03) scale(1.19 1)" font-size="9" font-weight="bold" text-anchor="middle" fill="#262626">0.04</text>
<text transform="translate(179.3 195.22) rotate(0.03) scale(1.19 1)" font-size="9" font-weight="bold" text-anchor="middle" fill="#262626">0.06</text>
<text transform="translate(81.6 177.07) rotate(0.03) scale(1.19 1)" font-size="9" font-weight="bold" text-anchor="end" fill="#262626">0</text>
<text transform="translate(81.6 148.82) rotate(0.03) scale(1.19 1)" font-size="9" font-weight="bold" text-anchor="end" fill="#262626">0.01</text>
<text transform="translate(81.6 120.57) rotate(0.03) scale(1.19 1)" font-size="9" font-weight="bold" text-anchor="end" fill="#262626">0.02</text>
<text transform="translate(208.3 255.6) rotate(0.03) scale(0.88 1)" font-size="15.5" font-weight="bold" text-anchor="middle" fill="#0d0d0d" stroke="#0d0d0d" stroke-width="0.35" letter-spacing="1.2">(a)</text>
<rect x="437.5" y="4.5" width="317.7" height="203.2" fill="#fff"/>
<line x1="501.04" y1="4.5" x2="501.04" y2="207.7" stroke="#d5d5d5" stroke-width="1.38"/>
<line x1="564.58" y1="4.5" x2="564.58" y2="207.7" stroke="#d5d5d5" stroke-width="1.38"/>
<line x1="628.12" y1="4.5" x2="628.12" y2="207.7" stroke="#d5d5d5" stroke-width="1.38"/>
<line x1="691.66" y1="4.5" x2="691.66" y2="207.7" stroke="#d5d5d5" stroke-width="1.38"/>
<line x1="437.5" y1="173.83" x2="755.2" y2="173.83" stroke="#dfdfdf" stroke-width="1"/>
<line x1="437.5" y1="139.97" x2="755.2" y2="139.97" stroke="#dfdfdf" stroke-width="1"/>
<line x1="437.5" y1="106.1" x2="755.2" y2="106.1" stroke="#dfdfdf" stroke-width="1"/>
<line x1="437.5" y1="72.23" x2="755.2" y2="72.23" stroke="#dfdfdf" stroke-width="1"/>
<line x1="437.5" y1="38.37" x2="755.2" y2="38.37" stroke="#dfdfdf" stroke-width="1"/>
<clipPath id="c3"><rect x="437.5" y="4.5" width="317.7" height="203.2"/></clipPath>
<g clip-path="url(#c3)">
<polyline points="437.5,154.23 438.14,153.63 438.77,153.02 439.41,152.4 440.04,151.78 440.68,151.15 441.31,150.51 441.95,149.86 442.58,149.21 443.22,148.55 443.85,147.88 444.49,147.21 445.12,146.53 445.76,145.84 446.4,145.15 447.03,144.45 447.67,143.75 448.3,143.04 448.94,142.32 449.57,141.6 450.21,140.87 450.84,140.14 451.48,139.4 452.11,138.65 452.75,137.91 453.38,137.15 454.02,136.39 454.66,135.63 455.29,134.86 455.93,134.09 456.56,133.31 457.2,132.53 457.83,131.74 458.47,130.95 459.1,130.16 459.74,129.36 460.37,128.56 461.01,127.76 461.65,126.95 462.28,126.14 462.92,125.32 463.55,124.5 464.19,123.68 464.82,122.86 465.46,122.03 466.09,121.21 466.73,120.38 467.36,119.54 468,118.71 468.63,117.87 469.27,117.03 469.91,116.19 470.54,115.35 471.18,114.5 471.81,113.66 472.45,112.81 473.08,111.96 473.72,111.12 474.35,110.27 474.99,109.42 475.62,108.57 476.26,107.72 476.89,106.86 477.53,106.01 478.17,105.16 478.8,104.31 479.44,103.46 480.07,102.61 480.71,101.76 481.34,100.91 481.98,100.06 482.61,99.22 483.25,98.37 483.88,97.52 484.52,96.68 485.16,95.84 485.79,95 486.43,94.16 487.06,93.32 487.7,92.49 488.33,91.65 488.97,90.82 489.6,90 490.24,89.17 490.87,88.35 491.51,87.53 492.14,86.71 492.78,85.9 493.42,85.09 494.05,84.28 494.69,83.47 495.32,82.67 495.96,81.88 496.59,81.08 497.23,80.3 497.86,79.51 498.5,78.73 499.13,77.95 499.77,77.18 500.4,76.41 501.04,75.65 501.68,74.89 502.31,74.14 502.95,73.39 503.58,72.65 504.22,71.91 504.85,71.18 505.49,70.45 506.12,69.73 506.76,69.02 507.39,68.31 508.03,67.6 508.66,66.91 509.3,66.22 509.94,65.53 510.57,64.85 511.21,64.18 511.84,63.52 512.48,62.86 513.11,62.21 513.75,61.56 514.38,60.92 515.02,60.29 515.65,59.67 516.29,59.05 516.92,58.44 517.56,57.84 518.2,57.25 518.83,56.66 519.47,56.09 520.1,55.52 520.74,54.95 521.37,54.4 522.01,53.85 522.64,53.32 523.28,52.79 523.91,52.27 524.55,51.75 525.19,51.25 525.82,50.76 526.46,50.27 527.09,49.79 527.73,49.32 528.36,48.86 529,48.41 529.63,47.97 530.27,47.54 530.9,47.12 531.54,46.7 532.17,46.3 532.81,45.9 533.45,45.52 534.08,45.14 534.72,44.78 535.35,44.42 535.99,44.07 536.62,43.73 537.26,43.41 537.89,43.09 538.53,42.78 539.16,42.49 539.8,42.2 540.43,41.92 541.07,41.65 541.71,41.4 542.34,41.15 542.98,40.91 543.61,40.69 544.25,40.47 544.88,40.27 545.52,40.07 546.15,39.89 546.79,39.71 547.42,39.55 548.06,39.4 548.7,39.25 549.33,39.12 549.97,39 550.6,38.89 551.24,38.79 551.87,38.7 552.51,38.62 553.14,38.55 553.78,38.49 554.41,38.45 555.05,38.41 555.68,38.39 556.32,38.37 556.96,38.37 557.59,38.37 558.23,38.39 558.86,38.42 559.5,38.46 560.13,38.5 560.77,38.56 561.4,38.64 562.04,38.72 562.67,38.81 563.31,38.91 563.94,39.02 564.58,39.15 565.22,39.28 565.85,39.43 566.49,39.58 567.12,39.75 567.76,39.92 568.39,40.11 569.03,40.31 569.66,40.52 570.3,40.73 570.93,40.96 571.57,41.2 572.2,41.45 572.84,41.71 573.48,41.98 574.11,42.26 574.75,42.55 575.38,42.85 576.02,43.15 576.65,43.47 577.29,43.8 577.92,44.14 578.56,44.49 579.19,44.85 579.83,45.22 580.47,45.6 581.1,45.98 581.74,46.38 582.37,46.79 583.01,47.2 583.64,47.63 584.28,48.06 584.91,48.5 585.55,48.96 586.18,49.42 586.82,49.89 587.45,50.37 588.09,50.86 588.73,51.35 589.36,51.86 590,52.37 590.63,52.9 591.27,53.43 591.9,53.97 592.54,54.51 593.17,55.07 593.81,55.63 594.44,56.2 595.08,56.78 595.71,57.37 596.35,57.97 596.99,58.57 597.62,59.18 598.26,59.8 598.89,60.42 599.53,61.05 600.16,61.69 600.8,62.34 601.43,62.99 602.07,63.65 602.7,64.32 603.34,64.99 603.97,65.67 604.61,66.36 605.25,67.05 605.88,67.75 606.52,68.45 607.15,69.16 607.79,69.88 608.42,70.6 609.06,71.33 609.69,72.06 610.33,72.8 610.96,73.55 611.6,74.29 612.24,75.05 612.87,75.81 613.51,76.57 614.14,77.34 614.78,78.11 615.41,78.89 616.05,79.67 616.68,80.46 617.32,81.25 617.95,82.04 618.59,82.84 619.22,83.64 619.86,84.44 620.5,85.25 621.13,86.06 621.77,86.88 622.4,87.7 623.04,88.52 623.67,89.34 624.31,90.17 624.94,90.99 625.58,91.82 626.21,92.66 626.85,93.49 627.48,94.33 628.12,95.17 628.76,96.01 629.39,96.85 630.03,97.7 630.66,98.54 631.3,99.39 631.93,100.24 632.57,101.08 633.2,101.93 633.84,102.78 634.47,103.63 635.11,104.48 635.74,105.34 636.38,106.19 637.02,107.04 637.65,107.89 638.29,108.74 638.92,109.59 639.56,110.44 640.19,111.29 640.83,112.14 641.46,112.98 642.1,113.83 642.73,114.68 643.37,115.52 644,116.36 644.64,117.2 645.28,118.04 645.91,118.88 646.55,119.71 647.18,120.55 647.82,121.38 648.45,122.2 649.09,123.03 649.72,123.85 650.36,124.67 650.99,125.49 651.63,126.3 652.27,127.11 652.9,127.92 653.54,128.73 654.17,129.53 654.81,130.32 655.44,131.12 656.08,131.9 656.71,132.69 657.35,133.47 657.98,134.25 658.62,135.02 659.25,135.79 659.89,136.55 660.53,137.31 661.16,138.06 661.8,138.81 662.43,139.55 663.07,140.29 663.7,141.02 664.34,141.75 664.97,142.47 665.61,143.18 666.24,143.89 666.88,144.6 667.51,145.29 668.15,145.98 668.79,146.67 669.42,147.35 670.06,148.02 670.69,148.68 671.33,149.34 671.96,149.99 672.6,150.64 673.23,151.28 673.87,151.91 674.5,152.53 675.14,153.15 675.78,153.76 676.41,154.36 677.05,154.95 677.68,155.54 678.32,156.11 678.95,156.68 679.59,157.25 680.22,157.8 680.86,158.35 681.49,158.88 682.13,159.41 682.76,159.93 683.4,160.45 684.04,160.95 684.67,161.44 685.31,161.93 685.94,162.41 686.58,162.88 687.21,163.34 687.85,163.79 688.48,164.23 689.12,164.66 689.75,165.08 690.39,165.5 691.02,165.9 691.66,166.3 692.3,166.68 692.93,167.06 693.57,167.42 694.2,167.78 694.84,168.13 695.47,168.47 696.11,168.79 696.74,169.11 697.38,169.42 698.01,169.71 698.65,170 699.28,170.28 699.92,170.55 700.56,170.8 701.19,171.05 701.83,171.29 702.46,171.51 703.1,171.73 703.73,171.93 704.37,172.13 705,172.31 705.64,172.49 706.27,172.65 706.91,172.8 707.55,172.95 708.18,173.08 708.82,173.2 709.45,173.31 710.09,173.41 710.72,173.5 711.36,173.58 711.99,173.65 712.63,173.71 713.26,173.75 713.9,173.79 714.53,173.81 715.17,173.83 715.81,173.83 716.44,173.83 717.08,173.81 717.71,173.78 718.35,173.74 718.98,173.7 719.62,173.64 720.25,173.56 720.89,173.48 721.52,173.39 722.16,173.29 722.79,173.18 723.43,173.05 724.07,172.92 724.7,172.77 725.34,172.62 725.97,172.45 726.61,172.28 727.24,172.09 727.88,171.89 728.51,171.68 729.15,171.47 729.78,171.24 730.42,171 731.05,170.75 731.69,170.49 732.33,170.22 732.96,169.94 733.6,169.65 734.23,169.35 734.87,169.05 735.5,168.73 736.14,168.4 736.77,168.06 737.41,167.71 738.04,167.35 738.68,166.98 739.32,166.6 739.95,166.22 740.59,165.82 741.22,165.41 741.86,165 742.49,164.57 743.13,164.14 743.76,163.7 744.4,163.24 745.03,162.78 745.67,162.31 746.3,161.83 746.94,161.34 747.58,160.85 748.21,160.34 748.85,159.83 749.48,159.3 750.12,158.77 750.75,158.23 751.39,157.69 752.02,157.13 752.66,156.57 753.29,156 753.93,155.42 754.56,154.83 755.2,154.23" fill="none" stroke="#D95319" stroke-width="1.2" stroke-linejoin="round"/>
<polyline points="437.5,153.99 438.14,153.39 438.77,152.78 439.41,152.16 440.04,151.53 440.68,150.89 441.31,150.25 441.95,149.6 442.58,148.95 443.22,148.28 443.85,147.61 444.49,146.94 445.12,146.26 445.76,145.57 446.4,144.87 447.03,144.17 447.67,143.46 448.3,142.75 448.94,142.03 449.57,141.31 450.21,140.58 450.84,139.84 451.48,139.1 452.11,138.36 452.75,137.61 453.38,136.85 454.02,136.09 454.66,135.32 455.29,134.55 455.93,133.78 456.56,133 457.2,132.22 457.83,131.43 458.47,130.64 459.1,129.84 459.74,129.04 460.37,128.24 461.01,127.44 461.65,126.63 462.28,125.81 462.92,125 463.55,124.18 464.19,123.36 464.82,122.53 465.46,121.71 466.09,120.88 466.73,120.04 467.36,119.21 468,118.37 468.63,117.54 469.27,116.7 469.91,115.85 470.54,115.01 471.18,114.17 471.81,113.32 472.45,112.47 473.08,111.63 473.72,110.78 474.35,109.93 474.99,109.08 475.62,108.23 476.26,107.38 476.89,106.53 477.53,105.67 478.17,104.82 478.8,103.97 479.44,103.12 480.07,102.27 480.71,101.42 481.34,100.57 481.98,99.73 482.61,98.88 483.25,98.03 483.88,97.19 484.52,96.35 485.16,95.5 485.79,94.66 486.43,93.83 487.06,92.99 487.7,92.16 488.33,91.32 488.97,90.49 489.6,89.67 490.24,88.84 490.87,88.02 491.51,87.2 492.14,86.39 492.78,85.57 493.42,84.76 494.05,83.96 494.69,83.16 495.32,82.36 495.96,81.56 496.59,80.77 497.23,79.98 497.86,79.2 498.5,78.42 499.13,77.65 499.77,76.88 500.4,76.11 501.04,75.35 501.68,74.59 502.31,73.84 502.95,73.1 503.58,72.36 504.22,71.62 504.85,70.89 505.49,70.17 506.12,69.45 506.76,68.74 507.39,68.03 508.03,67.33 508.66,66.63 509.3,65.94 509.94,65.26 510.57,64.59 511.21,63.92 511.84,63.25 512.48,62.6 513.11,61.95 513.75,61.31 514.38,60.67 515.02,60.04 515.65,59.42 516.29,58.81 516.92,58.21 517.56,57.61 518.2,57.02 518.83,56.43 519.47,55.86 520.1,55.29 520.74,54.73 521.37,54.18 522.01,53.64 522.64,53.11 523.28,52.58 523.91,52.06 524.55,51.55 525.19,51.05 525.82,50.56 526.46,50.08 527.09,49.61 527.73,49.14 528.36,48.68 529,48.24 529.63,47.8 530.27,47.37 530.9,46.95 531.54,46.54 532.17,46.14 532.81,45.75 533.45,45.37 534.08,45 534.72,44.63 535.35,44.28 535.99,43.94 536.62,43.6 537.26,43.28 537.89,42.97 538.53,42.66 539.16,42.37 539.8,42.09 540.43,41.81 541.07,41.55 541.71,41.3 542.34,41.06 542.98,40.82 543.61,40.6 544.25,40.39 544.88,40.19 545.52,40 546.15,39.82 546.79,39.65 547.42,39.49 548.06,39.34 548.7,39.2 549.33,39.07 549.97,38.96 550.6,38.85 551.24,38.75 551.87,38.67 552.51,38.59 553.14,38.53 553.78,38.47 554.41,38.43 555.05,38.4 555.68,38.38 556.32,38.37 556.96,38.37 557.59,38.38 558.23,38.4 558.86,38.43 559.5,38.47 560.13,38.53 560.77,38.59 561.4,38.67 562.04,38.75 562.67,38.85 563.31,38.96 563.94,39.07 564.58,39.2 565.22,39.34 565.85,39.49 566.49,39.65 567.12,39.82 567.76,40 568.39,40.19 569.03,40.39 569.66,40.6 570.3,40.82 570.93,41.06 571.57,41.3 572.2,41.55 572.84,41.81 573.48,42.09 574.11,42.37 574.75,42.66 575.38,42.97 576.02,43.28 576.65,43.6 577.29,43.94 577.92,44.28 578.56,44.63 579.19,45 579.83,45.37 580.47,45.75 581.1,46.14 581.74,46.54 582.37,46.95 583.01,47.37 583.64,47.8 584.28,48.24 584.91,48.68 585.55,49.14 586.18,49.61 586.82,50.08 587.45,50.56 588.09,51.05 588.73,51.55 589.36,52.06 590,52.58 590.63,53.11 591.27,53.64 591.9,54.18 592.54,54.73 593.17,55.29 593.81,55.86 594.44,56.43 595.08,57.02 595.71,57.61 596.35,58.21 596.99,58.81 597.62,59.42 598.26,60.04 598.89,60.67 599.53,61.31 600.16,61.95 600.8,62.6 601.43,63.25 602.07,63.92 602.7,64.59 603.34,65.26 603.97,65.94 604.61,66.63 605.25,67.33 605.88,68.03 606.52,68.74 607.15,69.45 607.79,70.17 608.42,70.89 609.06,71.62 609.69,72.36 610.33,73.1 610.96,73.84 611.6,74.59 612.24,75.35 612.87,76.11 613.51,76.88 614.14,77.65 614.78,78.42 615.41,79.2 616.05,79.98 616.68,80.77 617.32,81.56 617.95,82.36 618.59,83.16 619.22,83.96 619.86,84.76 620.5,85.57 621.13,86.39 621.77,87.2 622.4,88.02 623.04,88.84 623.67,89.67 624.31,90.49 624.94,91.32 625.58,92.16 626.21,92.99 626.85,93.83 627.48,94.66 628.12,95.5 628.76,96.35 629.39,97.19 630.03,98.03 630.66,98.88 631.3,99.73 631.93,100.57 632.57,101.42 633.2,102.27 633.84,103.12 634.47,103.97 635.11,104.82 635.74,105.67 636.38,106.53 637.02,107.38 637.65,108.23 638.29,109.08 638.92,109.93 639.56,110.78 640.19,111.63 640.83,112.47 641.46,113.32 642.1,114.17 642.73,115.01 643.37,115.85 644,116.7 644.64,117.54 645.28,118.37 645.91,119.21 646.55,120.04 647.18,120.88 647.82,121.71 648.45,122.53 649.09,123.36 649.72,124.18 650.36,125 650.99,125.81 651.63,126.63 652.27,127.44 652.9,128.24 653.54,129.04 654.17,129.84 654.81,130.64 655.44,131.43 656.08,132.22 656.71,133 657.35,133.78 657.98,134.55 658.62,135.32 659.25,136.09 659.89,136.85 660.53,137.61 661.16,138.36 661.8,139.1 662.43,139.84 663.07,140.58 663.7,141.31 664.34,142.03 664.97,142.75 665.61,143.46 666.24,144.17 666.88,144.87 667.51,145.57 668.15,146.26 668.79,146.94 669.42,147.61 670.06,148.28 670.69,148.95 671.33,149.6 671.96,150.25 672.6,150.89 673.23,151.53 673.87,152.16 674.5,152.78 675.14,153.39 675.78,153.99 676.41,154.59 677.05,155.18 677.68,155.77 678.32,156.34 678.95,156.91 679.59,157.47 680.22,158.02 680.86,158.56 681.49,159.09 682.13,159.62 682.76,160.14 683.4,160.65 684.04,161.15 684.67,161.64 685.31,162.12 685.94,162.59 686.58,163.06 687.21,163.52 687.85,163.96 688.48,164.4 689.12,164.83 689.75,165.25 690.39,165.66 691.02,166.06 691.66,166.45 692.3,166.83 692.93,167.2 693.57,167.57 694.2,167.92 694.84,168.26 695.47,168.6 696.11,168.92 696.74,169.23 697.38,169.54 698.01,169.83 698.65,170.11 699.28,170.39 699.92,170.65 700.56,170.9 701.19,171.14 701.83,171.38 702.46,171.6 703.1,171.81 703.73,172.01 704.37,172.2 705,172.38 705.64,172.55 706.27,172.71 706.91,172.86 707.55,173 708.18,173.13 708.82,173.24 709.45,173.35 710.09,173.45 710.72,173.53 711.36,173.61 711.99,173.67 712.63,173.73 713.26,173.77 713.9,173.8 714.53,173.82 715.17,173.83 715.81,173.83 716.44,173.82 717.08,173.8 717.71,173.77 718.35,173.73 718.98,173.67 719.62,173.61 720.25,173.53 720.89,173.45 721.52,173.35 722.16,173.24 722.79,173.13 723.43,173 724.07,172.86 724.7,172.71 725.34,172.55 725.97,172.38 726.61,172.2 727.24,172.01 727.88,171.81 728.51,171.6 729.15,171.38 729.78,171.14 730.42,170.9 731.05,170.65 731.69,170.39 732.33,170.11 732.96,169.83 733.6,169.54 734.23,169.23 734.87,168.92 735.5,168.6 736.14,168.26 736.77,167.92 737.41,167.57 738.04,167.2 738.68,166.83 739.32,166.45 739.95,166.06 740.59,165.66 741.22,165.25 741.86,164.83 742.49,164.4 743.13,163.96 743.76,163.52 744.4,163.06 745.03,162.59 745.67,162.12 746.3,161.64 746.94,161.15 747.58,160.65 748.21,160.14 748.85,159.62 749.48,159.09 750.12,158.56 750.75,158.02 751.39,157.47 752.02,156.91 752.66,156.34 753.29,155.77 753.93,155.18 754.56,154.59 755.2,153.99" fill="none" stroke="#7E2F8E" stroke-width="1.45" stroke-linejoin="round"/>
</g>
<line x1="437.5" y1="207.7" x2="437.5" y2="204.7" stroke="#262626" stroke-width="1.2"/>
<line x1="437.5" y1="4.5" x2="437.5" y2="7.5" stroke="#262626" stroke-width="1.2"/>
<line x1="501.04" y1="207.7" x2="501.04" y2="204.7" stroke="#262626" stroke-width="1.2"/>
<line x1="501.04" y1="4.5" x2="501.04" y2="7.5" stroke="#262626" stroke-width="1.2"/>
<line x1="564.58" y1="207.7" x2="564.58" y2="204.7" stroke="#262626" stroke-width="1.2"/>
<line x1="564.58" y1="4.5" x2="564.58" y2="7.5" stroke="#262626" stroke-width="1.2"/>
<line x1="628.12" y1="207.7" x2="628.12" y2="204.7" stroke="#262626" stroke-width="1.2"/>
<line x1="628.12" y1="4.5" x2="628.12" y2="7.5" stroke="#262626" stroke-width="1.2"/>
<line x1="691.66" y1="207.7" x2="691.66" y2="204.7" stroke="#262626" stroke-width="1.2"/>
<line x1="691.66" y1="4.5" x2="691.66" y2="7.5" stroke="#262626" stroke-width="1.2"/>
<line x1="755.2" y1="207.7" x2="755.2" y2="204.7" stroke="#262626" stroke-width="1.2"/>
<line x1="755.2" y1="4.5" x2="755.2" y2="7.5" stroke="#262626" stroke-width="1.2"/>
<line x1="437.5" y1="207.7" x2="440.5" y2="207.7" stroke="#262626" stroke-width="1.2"/>
<line x1="755.2" y1="207.7" x2="752.2" y2="207.7" stroke="#262626" stroke-width="1.2"/>
<line x1="437.5" y1="173.83" x2="440.5" y2="173.83" stroke="#262626" stroke-width="1.2"/>
<line x1="755.2" y1="173.83" x2="752.2" y2="173.83" stroke="#262626" stroke-width="1.2"/>
<line x1="437.5" y1="139.97" x2="440.5" y2="139.97" stroke="#262626" stroke-width="1.2"/>
<line x1="755.2" y1="139.97" x2="752.2" y2="139.97" stroke="#262626" stroke-width="1.2"/>
<line x1="437.5" y1="106.1" x2="440.5" y2="106.1" stroke="#262626" stroke-width="1.2"/>
<line x1="755.2" y1="106.1" x2="752.2" y2="106.1" stroke="#262626" stroke-width="1.2"/>
<line x1="437.5" y1="72.23" x2="440.5" y2="72.23" stroke="#262626" stroke-width="1.2"/>
<line x1="755.2" y1="72.23" x2="752.2" y2="72.23" stroke="#262626" stroke-width="1.2"/>
<line x1="437.5" y1="38.37" x2="440.5" y2="38.37" stroke="#262626" stroke-width="1.2"/>
<line x1="755.2" y1="38.37" x2="752.2" y2="38.37" stroke="#262626" stroke-width="1.2"/>
<line x1="437.5" y1="4.5" x2="440.5" y2="4.5" stroke="#262626" stroke-width="1.2"/>
<line x1="755.2" y1="4.5" x2="752.2" y2="4.5" stroke="#262626" stroke-width="1.2"/>
<line x1="436.52" y1="4.5" x2="756.18" y2="4.5" stroke="#262626" stroke-width="1.5"/>
<line x1="436.52" y1="207.7" x2="756.18" y2="207.7" stroke="#262626" stroke-width="1.5"/>
<line x1="437.5" y1="4.5" x2="437.5" y2="207.7" stroke="#262626" stroke-width="1.95"/>
<line x1="755.2" y1="4.5" x2="755.2" y2="207.7" stroke="#262626" stroke-width="1.95"/>
<text transform="translate(437.5 220.84) rotate(0.03) scale(1.56 1)" font-size="9.6" font-weight="bold" text-anchor="middle" fill="#262626">0</text>
<text transform="translate(501.04 220.84) rotate(0.03) scale(1.56 1)" font-size="9.6" font-weight="bold" text-anchor="middle" fill="#262626">2</text>
<text transform="translate(564.58 220.84) rotate(0.03) scale(1.56 1)" font-size="9.6" font-weight="bold" text-anchor="middle" fill="#262626">4</text>
<text transform="translate(628.12 220.84) rotate(0.03) scale(1.56 1)" font-size="9.6" font-weight="bold" text-anchor="middle" fill="#262626">6</text>
<text transform="translate(691.66 220.84) rotate(0.03) scale(1.56 1)" font-size="9.6" font-weight="bold" text-anchor="middle" fill="#262626">8</text>
<text transform="translate(755.2 220.84) rotate(0.03) scale(1.56 1)" font-size="9.6" font-weight="bold" text-anchor="middle" fill="#262626">10</text>
<text transform="translate(432.7 211.59) rotate(0.03) scale(1.56 1)" font-size="9.6" font-weight="bold" text-anchor="end" fill="#262626">-1.5</text>
<text transform="translate(432.7 177.72) rotate(0.03) scale(1.56 1)" font-size="9.6" font-weight="bold" text-anchor="end" fill="#262626">-1</text>
<text transform="translate(432.7 143.85) rotate(0.03) scale(1.56 1)" font-size="9.6" font-weight="bold" text-anchor="end" fill="#262626">-0.5</text>
<text transform="translate(432.7 109.99) rotate(0.03) scale(1.56 1)" font-size="9.6" font-weight="bold" text-anchor="end" fill="#262626">0</text>
<text transform="translate(432.7 76.12) rotate(0.03) scale(1.56 1)" font-size="9.6" font-weight="bold" text-anchor="end" fill="#262626">0.5</text>
<text transform="translate(432.7 42.25) rotate(0.03) scale(1.56 1)" font-size="9.6" font-weight="bold" text-anchor="end" fill="#262626">1</text>
<text transform="translate(432.7 8.39) rotate(0.03) scale(1.56 1)" font-size="9.6" font-weight="bold" text-anchor="end" fill="#262626">1.5</text>
<text transform="translate(596.1 234.3) rotate(0.03) scale(1.5 1)" font-size="11" font-weight="bold" text-anchor="middle" fill="#262626">Time (sec)</text>
<text transform="translate(401 106) rotate(-90) scale(0.67 1)" font-size="16.6" font-weight="normal" text-anchor="middle" fill="#262626" stroke="#262626" stroke-width="0.75">Theta - 2&#160;&#160;(rad)</text>
<rect x="632" y="7.5" width="119.7" height="40.6" fill="#fff"/>
<line x1="631.2" y1="7.5" x2="752.5" y2="7.5" stroke="#262626" stroke-width="1"/>
<line x1="631.2" y1="48.1" x2="752.5" y2="48.1" stroke="#262626" stroke-width="1"/>
<line x1="632" y1="7.5" x2="632" y2="48.1" stroke="#262626" stroke-width="1.6"/>
<line x1="751.7" y1="7.5" x2="751.7" y2="48.1" stroke="#262626" stroke-width="1.6"/>
<line x1="634.3" y1="12.8" x2="656.8" y2="12.8" stroke="#3a8fd0" stroke-width="1.5" stroke-opacity="1"/>
<text transform="translate(658.6 16.02) rotate(0.03) scale(1.35 1)" font-size="9" font-weight="bold" text-anchor="start" fill="#262626" stroke="#262626" stroke-width="0.18">NN-PIPD</text>
<line x1="634.3" y1="22.7" x2="656.8" y2="22.7" stroke="#D95319" stroke-width="0.8" stroke-opacity="1"/>
<text transform="translate(658.6 25.92) rotate(0.03) scale(1.35 1)" font-size="9" font-weight="bold" text-anchor="start" fill="#262626" stroke="#262626" stroke-width="0.18">NN+PID</text>
<line x1="634.3" y1="32.5" x2="656.8" y2="32.5" stroke="#EDB120" stroke-width="0.9" stroke-opacity="1"/>
<text transform="translate(658.6 35.72) rotate(0.03) scale(1.35 1)" font-size="9" font-weight="bold" text-anchor="start" fill="#262626" stroke="#262626" stroke-width="0.18">ELNN-PID</text>
<line x1="634.3" y1="42.4" x2="656.8" y2="42.4" stroke="#9450a5" stroke-width="1.3" stroke-opacity="1"/>
<text transform="translate(658.6 45.62) rotate(0.03) scale(1.35 1)" font-size="9" font-weight="bold" text-anchor="start" fill="#262626" stroke="#262626" stroke-width="0.18">Desired Theta-2</text>
<rect x="519.5" y="87.5" width="100" height="87" fill="#fff"/>
<line x1="550.3" y1="87.5" x2="550.3" y2="174.5" stroke="#e2e2e2" stroke-width="0.8"/>
<line x1="580.9" y1="87.5" x2="580.9" y2="174.5" stroke="#e2e2e2" stroke-width="0.8"/>
<line x1="611.5" y1="87.5" x2="611.5" y2="174.5" stroke="#e2e2e2" stroke-width="0.8"/>
<line x1="519.5" y1="169.8" x2="619.5" y2="169.8" stroke="#e2e2e2" stroke-width="0.8"/>
<line x1="519.5" y1="132.5" x2="619.5" y2="132.5" stroke="#e2e2e2" stroke-width="0.8"/>
<line x1="519.5" y1="95.2" x2="619.5" y2="95.2" stroke="#e2e2e2" stroke-width="0.8"/>
<clipPath id="c4"><rect x="519.5" y="87.5" width="100" height="87"/></clipPath>
<g clip-path="url(#c4)">
<polyline points="519.7,132.5 520.34,132.58 520.98,132.67 521.62,132.75 522.26,132.83 522.9,132.91 523.54,132.99 524.18,133.07 524.82,133.15 525.46,133.23 526.1,133.3 526.74,133.38 527.38,133.45 528.02,133.52 528.66,133.59 529.3,133.65 529.94,133.72 530.58,133.78 531.22,133.83 531.86,133.89 532.5,133.94 533.14,133.99 533.78,134.04 534.42,134.08 535.06,134.12 535.7,134.16 536.34,134.19 536.98,134.22 537.62,134.24 538.26,134.26 538.9,134.28 539.54,134.29 540.18,134.3 540.82,134.31 541.46,134.32 542.1,134.32 542.74,134.33 543.38,134.34 544.02,134.35 544.66,134.35 545.3,134.36 545.94,134.37 546.58,134.37 547.22,134.38 547.86,134.39 548.5,134.39 549.14,134.4 549.78,134.4 550.42,134.41 551.06,134.41 551.7,134.41 552.34,134.42 552.98,134.42 553.62,134.43 554.25,134.43 554.89,134.43 555.53,134.43 556.17,134.43 556.81,134.44 557.45,134.44 558.09,134.44 558.73,134.44 559.37,134.44 560.01,134.44 560.65,134.42 561.29,134.4 561.93,134.37 562.57,134.33 563.21,134.29 563.85,134.24 564.49,134.18 565.13,134.13 565.77,134.06 566.41,134 567.05,133.94 567.69,133.87 568.33,133.8 568.97,133.74 569.61,133.68 570.25,133.61 570.89,133.54 571.53,133.47 572.17,133.39 572.81,133.31 573.45,133.23 574.09,133.14 574.73,133.05 575.37,132.96 576.01,132.86 576.65,132.76 577.29,132.66 577.93,132.56 578.57,132.45 579.21,132.34 579.85,132.23 580.49,132.12 581.13,132 581.77,131.88 582.41,131.76 583.05,131.63 583.69,131.5 584.33,131.36 584.97,131.21 585.61,131.06 586.25,130.91 586.89,130.75 587.53,130.58 588.17,130.42 588.81,130.25 589.45,130.07 590.09,129.9 590.73,129.72 591.37,129.54 592.01,129.36 592.65,129.18 593.29,129 593.93,128.82 594.57,128.64 595.21,128.46 595.85,128.28 596.49,128.1 597.13,127.92 597.77,127.75 598.41,127.58 599.05,127.41 599.69,127.24 600.33,127.07 600.97,126.91 601.61,126.74 602.25,126.57 602.89,126.41 603.53,126.24 604.17,126.07 604.81,125.91 605.45,125.74 606.09,125.57 606.73,125.4 607.37,125.24 608.01,125.07 608.65,124.9 609.29,124.73 609.93,124.56 610.57,124.4 611.21,124.23 611.85,124.06 612.49,123.89 613.13,123.72 613.77,123.56 614.41,123.39 615.05,123.22 615.69,123.05 616.33,122.88 616.97,122.71 617.61,122.54 618.25,122.38 618.89,122.21 619.53,122.04 620.17,121.87 620.81,121.7 621.45,121.53" fill="none" stroke="#D95319" stroke-width="0.75" stroke-linejoin="round"/>
<polyline points="519.7,132.5 520.34,132.39 520.98,132.28 521.62,132.17 522.26,132.06 522.9,131.94 523.54,131.83 524.18,131.72 524.82,131.61 525.46,131.5 526.1,131.39 526.74,131.28 527.38,131.17 528.02,131.06 528.66,130.95 529.3,130.83 529.94,130.72 530.58,130.61 531.22,130.5 531.86,130.39 532.5,130.28 533.14,130.17 533.78,130.06 534.42,129.95 535.06,129.84 535.7,129.72 536.34,129.61 536.98,129.5 537.62,129.39 538.26,129.28 538.9,129.17 539.54,129.06 540.18,128.95 540.82,128.84 541.46,128.73 542.1,128.61 542.74,128.5 543.38,128.39 544.02,128.28 544.66,128.17 545.3,128.06 545.94,127.95 546.58,127.84 547.22,127.73 547.86,127.62 548.5,127.5 549.14,127.39 549.78,127.28 550.42,127.17 551.06,127.06 551.7,126.95 552.34,126.84 552.98,126.73 553.62,126.62 554.25,126.5 554.89,126.39 555.53,126.28 556.17,126.17 556.81,126.06 557.45,125.95 558.09,125.84 558.73,125.73 559.37,125.62 560.01,125.51 560.65,125.39 561.29,125.28 561.93,125.17 562.57,125.06 563.21,124.95 563.85,124.84 564.49,124.73 565.13,124.62 565.77,124.51 566.41,124.4 567.05,124.28 567.69,124.17 568.33,124.06 568.97,123.95 569.61,123.84 570.25,123.73 570.89,123.62 571.53,123.51 572.17,123.4 572.81,123.29 573.45,123.17 574.09,123.06 574.73,122.95 575.37,122.84 576.01,122.73 576.65,122.62 577.29,122.51 577.93,122.4 578.57,122.29 579.21,122.18 579.85,122.06 580.49,121.95 581.13,121.84 581.77,121.73 582.41,121.62 583.05,121.51 583.69,121.4 584.33,121.29 584.97,121.18 585.61,121.06 586.25,120.95 586.89,120.84 587.53,120.73 588.17,120.62 588.81,120.51 589.45,120.4 590.09,120.29 590.73,120.18 591.37,120.07 592.01,119.95 592.65,119.84 593.29,119.73 593.93,119.62 594.57,119.51 595.21,119.4 595.85,119.29 596.49,119.18 597.13,119.07 597.77,118.96 598.41,118.84 599.05,118.73 599.69,118.62 600.33,118.51 600.97,118.4 601.61,118.29 602.25,118.18 602.89,118.07 603.53,117.96 604.17,117.85 604.81,117.73 605.45,117.62 606.09,117.51 606.73,117.4 607.37,117.29 608.01,117.18 608.65,117.07 609.29,116.96 609.93,116.85 610.57,116.74 611.21,116.62 611.85,116.51 612.49,116.4 613.13,116.29 613.77,116.18 614.41,116.07 615.05,115.96 615.69,115.85 616.33,115.74 616.97,115.62 617.61,115.51 618.25,115.4 618.89,115.29 619.53,115.18 620.17,115.07 620.81,114.96 621.45,114.85" fill="none" stroke="#EDB120" stroke-width="0.75" stroke-linejoin="round"/>
<polyline points="519.7,132.51 520.34,132.66 520.98,132.81 521.62,132.95 522.26,133.09 522.9,133.23 523.54,133.35 524.18,133.48 524.82,133.59 525.46,133.7 526.1,133.81 526.74,133.9 527.38,133.99 528.02,134.07 528.66,134.14 529.3,134.21 529.94,134.28 530.58,134.36 531.22,134.43 531.86,134.51 532.5,134.58 533.14,134.65 533.78,134.71 534.42,134.77 535.06,134.81 535.7,134.84 536.34,134.86 536.98,134.86 537.62,134.85 538.26,134.81 538.9,134.76 539.54,134.68 540.18,134.58 540.82,134.49 541.46,134.39 542.1,134.29 542.74,134.19 543.38,134.08 544.02,133.98 544.66,133.87 545.3,133.76 545.94,133.64 546.58,133.53 547.22,133.4 547.86,133.28 548.5,133.15 549.14,133.02 549.78,132.89 550.42,132.75 551.06,132.59 551.7,132.42 552.34,132.23 552.98,132.03 553.62,131.81 554.25,131.59 554.89,131.36 555.53,131.13 556.17,130.89 556.81,130.65 557.45,130.42 558.09,130.18 558.73,129.96 559.37,129.75 560.01,129.53 560.65,129.31 561.29,129.09 561.93,128.87 562.57,128.65 563.21,128.43 563.85,128.23 564.49,128.04 565.13,127.87 565.77,127.73 566.41,127.59 567.05,127.44 567.69,127.3 568.33,127.16 568.97,127.02 569.61,126.88 570.25,126.74 570.89,126.6 571.53,126.45 572.17,126.31 572.81,126.17 573.45,126.03 574.09,125.89 574.73,125.75 575.37,125.6 576.01,125.46 576.65,125.32 577.29,125.18 577.93,125.04 578.57,124.9 579.21,124.75 579.85,124.61 580.49,124.47 581.13,124.33 581.77,124.19 582.41,124.04 583.05,123.9 583.69,123.76 584.33,123.62 584.97,123.47 585.61,123.33 586.25,123.19 586.89,123.05 587.53,122.91 588.17,122.76 588.81,122.62 589.45,122.48 590.09,122.34 590.73,122.19 591.37,122.05 592.01,121.91 592.65,121.76 593.29,121.62 593.93,121.48 594.57,121.34 595.21,121.19 595.85,121.05 596.49,120.91 597.13,120.76 597.77,120.62 598.41,120.48 599.05,120.34 599.69,120.19 600.33,120.05 600.97,119.91 601.61,119.76 602.25,119.62 602.89,119.48 603.53,119.33 604.17,119.19 604.81,119.05 605.45,118.9 606.09,118.76 606.73,118.62 607.37,118.47 608.01,118.33 608.65,118.19 609.29,118.04 609.93,117.9 610.57,117.75 611.21,117.61 611.85,117.47 612.49,117.32 613.13,117.18 613.77,117.04 614.41,116.89 615.05,116.75 615.69,116.6 616.33,116.46 616.97,116.32 617.61,116.17 618.25,116.03 618.89,115.88 619.53,115.74 620.17,115.6 620.81,115.45 621.45,115.31" fill="none" stroke="#0072BD" stroke-width="0.75" stroke-linejoin="round"/>
<polyline points="519.7,137.8 520.34,137.66 520.98,137.52 521.62,137.39 522.26,137.25 522.9,137.11 523.54,136.97 524.18,136.83 524.82,136.69 525.46,136.55 526.1,136.41 526.74,136.27 527.38,136.14 528.02,136 528.66,135.86 529.3,135.72 529.94,135.58 530.58,135.44 531.22,135.3 531.86,135.16 532.5,135.02 533.14,134.88 533.78,134.74 534.42,134.6 535.06,134.46 535.7,134.32 536.34,134.19 536.98,134.05 537.62,133.91 538.26,133.77 538.9,133.63 539.54,133.49 540.18,133.35 540.82,133.21 541.46,133.07 542.1,132.93 542.74,132.79 543.38,132.65 544.02,132.51 544.66,132.37 545.3,132.23 545.94,132.09 546.58,131.95 547.22,131.81 547.86,131.67 548.5,131.53 549.14,131.39 549.78,131.25 550.42,131.11 551.06,130.97 551.7,130.83 552.34,130.68 552.98,130.54 553.62,130.4 554.25,130.26 554.89,130.12 555.53,129.98 556.17,129.84 556.81,129.7 557.45,129.56 558.09,129.42 558.73,129.28 559.37,129.14 560.01,129 560.65,128.86 561.29,128.71 561.93,128.57 562.57,128.43 563.21,128.29 563.85,128.15 564.49,128.01 565.13,127.87 565.77,127.73 566.41,127.59 567.05,127.44 567.69,127.3 568.33,127.16 568.97,127.02 569.61,126.88 570.25,126.74 570.89,126.6 571.53,126.45 572.17,126.31 572.81,126.17 573.45,126.03 574.09,125.89 574.73,125.75 575.37,125.6 576.01,125.46 576.65,125.32 577.29,125.18 577.93,125.04 578.57,124.9 579.21,124.75 579.85,124.61 580.49,124.47 581.13,124.33 581.77,124.19 582.41,124.04 583.05,123.9 583.69,123.76 584.33,123.62 584.97,123.47 585.61,123.33 586.25,123.19 586.89,123.05 587.53,122.91 588.17,122.76 588.81,122.62 589.45,122.48 590.09,122.34 590.73,122.19 591.37,122.05 592.01,121.91 592.65,121.76 593.29,121.62 593.93,121.48 594.57,121.34 595.21,121.19 595.85,121.05 596.49,120.91 597.13,120.76 597.77,120.62 598.41,120.48 599.05,120.34 599.69,120.19 600.33,120.05 600.97,119.91 601.61,119.76 602.25,119.62 602.89,119.48 603.53,119.33 604.17,119.19 604.81,119.05 605.45,118.9 606.09,118.76 606.73,118.62 607.37,118.47 608.01,118.33 608.65,118.19 609.29,118.04 609.93,117.9 610.57,117.75 611.21,117.61 611.85,117.47 612.49,117.32 613.13,117.18 613.77,117.04 614.41,116.89 615.05,116.75 615.69,116.6 616.33,116.46 616.97,116.32 617.61,116.17 618.25,116.03 618.89,115.88 619.53,115.74 620.17,115.6 620.81,115.45 621.45,115.31" fill="none" stroke="#7E2F8E" stroke-width="0.75" stroke-linejoin="round"/>
</g>
<line x1="519.7" y1="174.5" x2="519.7" y2="172.5" stroke="#454545" stroke-width="0.72"/>
<line x1="519.7" y1="87.5" x2="519.7" y2="89.5" stroke="#454545" stroke-width="0.72"/>
<line x1="550.3" y1="174.5" x2="550.3" y2="172.5" stroke="#454545" stroke-width="0.72"/>
<line x1="550.3" y1="87.5" x2="550.3" y2="89.5" stroke="#454545" stroke-width="0.72"/>
<line x1="580.9" y1="174.5" x2="580.9" y2="172.5" stroke="#454545" stroke-width="0.72"/>
<line x1="580.9" y1="87.5" x2="580.9" y2="89.5" stroke="#454545" stroke-width="0.72"/>
<line x1="611.5" y1="174.5" x2="611.5" y2="172.5" stroke="#454545" stroke-width="0.72"/>
<line x1="611.5" y1="87.5" x2="611.5" y2="89.5" stroke="#454545" stroke-width="0.72"/>
<line x1="519.5" y1="169.8" x2="521.5" y2="169.8" stroke="#454545" stroke-width="0.72"/>
<line x1="619.5" y1="169.8" x2="617.5" y2="169.8" stroke="#454545" stroke-width="0.72"/>
<line x1="519.5" y1="132.5" x2="521.5" y2="132.5" stroke="#454545" stroke-width="0.72"/>
<line x1="619.5" y1="132.5" x2="617.5" y2="132.5" stroke="#454545" stroke-width="0.72"/>
<line x1="519.5" y1="95.2" x2="521.5" y2="95.2" stroke="#454545" stroke-width="0.72"/>
<line x1="619.5" y1="95.2" x2="617.5" y2="95.2" stroke="#454545" stroke-width="0.72"/>
<line x1="518.98" y1="87.5" x2="620.02" y2="87.5" stroke="#454545" stroke-width="0.9"/>
<line x1="518.98" y1="174.5" x2="620.02" y2="174.5" stroke="#454545" stroke-width="0.9"/>
<line x1="519.5" y1="87.5" x2="519.5" y2="174.5" stroke="#454545" stroke-width="1.03"/>
<line x1="619.5" y1="87.5" x2="619.5" y2="174.5" stroke="#454545" stroke-width="1.03"/>
<text transform="translate(519.7 185.12) rotate(0.03) scale(1.14 1)" font-size="9" font-weight="bold" text-anchor="middle" fill="#262626">0</text>
<text transform="translate(550.3 185.12) rotate(0.03) scale(1.14 1)" font-size="9" font-weight="bold" text-anchor="middle" fill="#262626">0.02</text>
<text transform="translate(580.9 185.12) rotate(0.03) scale(1.14 1)" font-size="9" font-weight="bold" text-anchor="middle" fill="#262626">0.04</text>
<text transform="translate(611.5 185.12) rotate(0.03) scale(1.14 1)" font-size="9" font-weight="bold" text-anchor="middle" fill="#262626">0.06</text>
<text transform="translate(516.4 173.47) rotate(0.03) scale(1.14 1)" font-size="9" font-weight="bold" text-anchor="end" fill="#262626">-0.75</text>
<text transform="translate(516.4 136.17) rotate(0.03) scale(1.14 1)" font-size="9" font-weight="bold" text-anchor="end" fill="#262626">-0.7</text>
<text transform="translate(516.4 98.87) rotate(0.03) scale(1.14 1)" font-size="9" font-weight="bold" text-anchor="end" fill="#262626">-0.65</text>
<text transform="translate(591.3 256.3) rotate(0.03) scale(0.88 1)" font-size="15.5" font-weight="bold" text-anchor="middle" fill="#0d0d0d" stroke="#0d0d0d" stroke-width="0.35" letter-spacing="1.2">(b)</text>
<rect x="52.3" y="316" width="314.8" height="192.8" fill="#fff"/>
<line x1="115.26" y1="316" x2="115.26" y2="508.8" stroke="#d5d5d5" stroke-width="1.38"/>
<line x1="178.22" y1="316" x2="178.22" y2="508.8" stroke="#d5d5d5" stroke-width="1.38"/>
<line x1="241.18" y1="316" x2="241.18" y2="508.8" stroke="#d5d5d5" stroke-width="1.38"/>
<line x1="304.14" y1="316" x2="304.14" y2="508.8" stroke="#d5d5d5" stroke-width="1.38"/>
<line x1="52.3" y1="476.67" x2="367.1" y2="476.67" stroke="#dfdfdf" stroke-width="1"/>
<line x1="52.3" y1="444.53" x2="367.1" y2="444.53" stroke="#dfdfdf" stroke-width="1"/>
<line x1="52.3" y1="412.4" x2="367.1" y2="412.4" stroke="#dfdfdf" stroke-width="1"/>
<line x1="52.3" y1="380.27" x2="367.1" y2="380.27" stroke="#dfdfdf" stroke-width="1"/>
<line x1="52.3" y1="348.13" x2="367.1" y2="348.13" stroke="#dfdfdf" stroke-width="1"/>
<clipPath id="c5"><rect x="52.3" y="316" width="314.8" height="192.8"/></clipPath>
<g clip-path="url(#c5)">
<polyline points="52.3,477.07 52.93,477.05 53.56,477.03 54.19,477 54.82,476.95 55.45,476.9 56.08,476.83 56.71,476.76 57.34,476.67 57.97,476.58 58.6,476.47 59.23,476.36 59.86,476.23 60.48,476.09 61.11,475.95 61.74,475.79 62.37,475.63 63,475.45 63.63,475.27 64.26,475.07 64.89,474.86 65.52,474.65 66.15,474.42 66.78,474.19 67.41,473.94 68.04,473.69 68.67,473.43 69.3,473.15 69.93,472.87 70.56,472.57 71.19,472.27 71.82,471.96 72.45,471.64 73.08,471.31 73.71,470.97 74.34,470.62 74.97,470.26 75.6,469.89 76.22,469.52 76.85,469.13 77.48,468.74 78.11,468.33 78.74,467.92 79.37,467.5 80,467.07 80.63,466.63 81.26,466.18 81.89,465.73 82.52,465.26 83.15,464.79 83.78,464.31 84.41,463.82 85.04,463.33 85.67,462.82 86.3,462.31 86.93,461.79 87.56,461.26 88.19,460.72 88.82,460.18 89.45,459.63 90.08,459.07 90.71,458.5 91.34,457.93 91.96,457.35 92.59,456.76 93.22,456.16 93.85,455.56 94.48,454.95 95.11,454.34 95.74,453.72 96.37,453.09 97,452.45 97.63,451.81 98.26,451.17 98.89,450.51 99.52,449.85 100.15,449.19 100.78,448.52 101.41,447.84 102.04,447.16 102.67,446.47 103.3,445.77 103.93,445.08 104.56,444.37 105.19,443.66 105.82,442.95 106.45,442.23 107.08,441.51 107.7,440.78 108.33,440.05 108.96,439.31 109.59,438.57 110.22,437.82 110.85,437.07 111.48,436.32 112.11,435.56 112.74,434.8 113.37,434.04 114,433.27 114.63,432.5 115.26,431.73 115.89,430.95 116.52,430.17 117.15,429.39 117.78,428.6 118.41,427.81 119.04,427.02 119.67,426.23 120.3,425.43 120.93,424.64 121.56,423.84 122.19,423.04 122.82,422.24 123.44,421.43 124.07,420.63 124.7,419.82 125.33,419.01 125.96,418.2 126.59,417.39 127.22,416.58 127.85,415.77 128.48,414.96 129.11,414.15 129.74,413.33 130.37,412.52 131,411.71 131.63,410.9 132.26,410.08 132.89,409.27 133.52,408.46 134.15,407.65 134.78,406.84 135.41,406.03 136.04,405.22 136.67,404.42 137.3,403.61 137.93,402.81 138.56,402 139.18,401.2 139.81,400.4 140.44,399.6 141.07,398.81 141.7,398.01 142.33,397.22 142.96,396.43 143.59,395.65 144.22,394.87 144.85,394.08 145.48,393.31 146.11,392.53 146.74,391.76 147.37,390.99 148,390.23 148.63,389.46 149.26,388.71 149.89,387.95 150.52,387.2 151.15,386.46 151.78,385.71 152.41,384.97 153.04,384.24 153.67,383.51 154.3,382.79 154.92,382.07 155.55,381.35 156.18,380.64 156.81,379.94 157.44,379.23 158.07,378.54 158.7,377.85 159.33,377.17 159.96,376.49 160.59,375.81 161.22,375.15 161.85,374.49 162.48,373.83 163.11,373.18 163.74,372.54 164.37,371.9 165,371.27 165.63,370.65 166.26,370.03 166.89,369.42 167.52,368.82 168.15,368.22 168.78,367.63 169.41,367.05 170.04,366.47 170.66,365.9 171.29,365.34 171.92,364.79 172.55,364.24 173.18,363.7 173.81,363.17 174.44,362.65 175.07,362.13 175.7,361.62 176.33,361.13 176.96,360.63 177.59,360.15 178.22,359.68 178.85,359.21 179.48,358.75 180.11,358.3 180.74,357.86 181.37,357.43 182,357.01 182.63,356.59 183.26,356.18 183.89,355.79 184.52,355.4 185.15,355.02 185.78,354.65 186.4,354.29 187.03,353.94 187.66,353.59 188.29,353.26 188.92,352.93 189.55,352.62 190.18,352.31 190.81,352.02 191.44,351.73 192.07,351.46 192.7,351.19 193.33,350.93 193.96,350.68 194.59,350.45 195.22,350.22 195.85,350 196.48,349.79 197.11,349.59 197.74,349.4 198.37,349.22 199,349.06 199.63,348.9 200.26,348.75 200.89,348.61 201.52,348.48 202.14,348.36 202.77,348.25 203.4,348.16 204.03,348.07 204.66,347.99 205.29,347.92 205.92,347.86 206.55,347.82 207.18,347.78 207.81,347.75 208.44,347.74 209.07,347.73 209.7,347.73 210.33,347.75 210.96,347.77 211.59,347.8 212.22,347.85 212.85,347.9 213.48,347.97 214.11,348.04 214.74,348.13 215.37,348.22 216,348.33 216.63,348.44 217.26,348.57 217.88,348.71 218.51,348.85 219.14,349.01 219.77,349.17 220.4,349.35 221.03,349.53 221.66,349.73 222.29,349.94 222.92,350.15 223.55,350.38 224.18,350.61 224.81,350.86 225.44,351.11 226.07,351.37 226.7,351.65 227.33,351.93 227.96,352.23 228.59,352.53 229.22,352.84 229.85,353.16 230.48,353.49 231.11,353.83 231.74,354.18 232.37,354.54 233,354.91 233.62,355.28 234.25,355.67 234.88,356.06 235.51,356.47 236.14,356.88 236.77,357.3 237.4,357.73 238.03,358.17 238.66,358.62 239.29,359.07 239.92,359.54 240.55,360.01 241.18,360.49 241.81,360.98 242.44,361.47 243.07,361.98 243.7,362.49 244.33,363.01 244.96,363.54 245.59,364.08 246.22,364.62 246.85,365.17 247.48,365.73 248.11,366.3 248.74,366.87 249.36,367.45 249.99,368.04 250.62,368.64 251.25,369.24 251.88,369.85 252.51,370.46 253.14,371.08 253.77,371.71 254.4,372.35 255.03,372.99 255.66,373.63 256.29,374.29 256.92,374.95 257.55,375.61 258.18,376.28 258.81,376.96 259.44,377.64 260.07,378.33 260.7,379.03 261.33,379.72 261.96,380.43 262.59,381.14 263.22,381.85 263.85,382.57 264.48,383.29 265.1,384.02 265.73,384.75 266.36,385.49 266.99,386.23 267.62,386.98 268.25,387.73 268.88,388.48 269.51,389.24 270.14,390 270.77,390.76 271.4,391.53 272.03,392.3 272.66,393.07 273.29,393.85 273.92,394.63 274.55,395.41 275.18,396.2 275.81,396.99 276.44,397.78 277.07,398.57 277.7,399.37 278.33,400.16 278.96,400.96 279.59,401.76 280.22,402.56 280.84,403.37 281.47,404.17 282.1,404.98 282.73,405.79 283.36,406.6 283.99,407.41 284.62,408.22 285.25,409.03 285.88,409.84 286.51,410.65 287.14,411.47 287.77,412.28 288.4,413.09 289.03,413.9 289.66,414.72 290.29,415.53 290.92,416.34 291.55,417.15 292.18,417.96 292.81,418.77 293.44,419.58 294.07,420.38 294.7,421.19 295.33,421.99 295.96,422.8 296.58,423.6 297.21,424.4 297.84,425.2 298.47,425.99 299.1,426.79 299.73,427.58 300.36,428.37 300.99,429.15 301.62,429.93 302.25,430.72 302.88,431.49 303.51,432.27 304.14,433.04 304.77,433.81 305.4,434.57 306.03,435.34 306.66,436.09 307.29,436.85 307.92,437.6 308.55,438.34 309.18,439.09 309.81,439.83 310.44,440.56 311.07,441.29 311.7,442.01 312.32,442.73 312.95,443.45 313.58,444.16 314.21,444.86 314.84,445.57 315.47,446.26 316.1,446.95 316.73,447.63 317.36,448.31 317.99,448.99 318.62,449.65 319.25,450.31 319.88,450.97 320.51,451.62 321.14,452.26 321.77,452.9 322.4,453.53 323.03,454.15 323.66,454.77 324.29,455.38 324.92,455.98 325.55,456.58 326.18,457.17 326.81,457.75 327.44,458.33 328.06,458.9 328.69,459.46 329.32,460.01 329.95,460.56 330.58,461.1 331.21,461.63 331.84,462.15 332.47,462.67 333.1,463.18 333.73,463.67 334.36,464.17 334.99,464.65 335.62,465.12 336.25,465.59 336.88,466.05 337.51,466.5 338.14,466.94 338.77,467.37 339.4,467.79 340.03,468.21 340.66,468.62 341.29,469.01 341.92,469.4 342.55,469.78 343.18,470.15 343.8,470.51 344.43,470.86 345.06,471.21 345.69,471.54 346.32,471.87 346.95,472.18 347.58,472.49 348.21,472.78 348.84,473.07 349.47,473.34 350.1,473.61 350.73,473.87 351.36,474.12 351.99,474.35 352.62,474.58 353.25,474.8 353.88,475.01 354.51,475.21 355.14,475.4 355.77,475.58 356.4,475.74 357.03,475.9 357.66,476.05 358.29,476.19 358.92,476.32 359.54,476.44 360.17,476.55 360.8,476.64 361.43,476.73 362.06,476.81 362.69,476.88 363.32,476.94 363.95,476.98 364.58,477.02 365.21,477.05 365.84,477.06 366.47,477.07 367.1,477.07" fill="none" stroke="#D95319" stroke-width="1.2" stroke-linejoin="round"/>
<polyline points="52.43,476.67 53.06,476.66 53.69,476.65 54.31,476.62 54.94,476.59 55.57,476.54 56.2,476.48 56.83,476.42 57.46,476.34 58.09,476.26 58.72,476.16 59.35,476.05 59.98,475.94 60.61,475.81 61.24,475.67 61.87,475.53 62.5,475.37 63.13,475.21 63.76,475.03 64.39,474.84 65.02,474.65 65.65,474.44 66.28,474.23 66.91,474 67.54,473.77 68.17,473.52 68.8,473.27 69.43,473 70.05,472.73 70.68,472.45 71.31,472.15 71.94,471.85 72.57,471.54 73.2,471.22 73.83,470.89 74.46,470.55 75.09,470.2 75.72,469.84 76.35,469.48 76.98,469.1 77.61,468.72 78.24,468.32 78.87,467.92 79.5,467.51 80.13,467.09 80.76,466.66 81.39,466.23 82.02,465.78 82.65,465.33 83.28,464.86 83.91,464.39 84.54,463.91 85.17,463.43 85.79,462.93 86.42,462.43 87.05,461.92 87.68,461.4 88.31,460.87 88.94,460.34 89.57,459.8 90.2,459.25 90.83,458.69 91.46,458.13 92.09,457.56 92.72,456.98 93.35,456.39 93.98,455.8 94.61,455.2 95.24,454.6 95.87,453.98 96.5,453.37 97.13,452.74 97.76,452.11 98.39,451.47 99.02,450.83 99.65,450.17 100.28,449.52 100.91,448.86 101.53,448.19 102.16,447.51 102.79,446.84 103.42,446.15 104.05,445.46 104.68,444.77 105.31,444.07 105.94,443.36 106.57,442.65 107.2,441.94 107.83,441.22 108.46,440.49 109.09,439.76 109.72,439.03 110.35,438.29 110.98,437.55 111.61,436.81 112.24,436.06 112.87,435.31 113.5,434.55 114.13,433.79 114.76,433.03 115.39,432.26 116.02,431.49 116.65,430.72 117.27,429.94 117.9,429.16 118.53,428.38 119.16,427.6 119.79,426.81 120.42,426.02 121.05,425.23 121.68,424.44 122.31,423.65 122.94,422.85 123.57,422.05 124.2,421.26 124.83,420.45 125.46,419.65 126.09,418.85 126.72,418.05 127.35,417.24 127.98,416.44 128.61,415.63 129.24,414.82 129.87,414.02 130.5,413.21 131.13,412.4 131.76,411.59 132.39,410.78 133.01,409.98 133.64,409.17 134.27,408.36 134.9,407.56 135.53,406.75 136.16,405.95 136.79,405.15 137.42,404.35 138.05,403.54 138.68,402.75 139.31,401.95 139.94,401.15 140.57,400.36 141.2,399.57 141.83,398.78 142.46,397.99 143.09,397.2 143.72,396.42 144.35,395.64 144.98,394.86 145.61,394.08 146.24,393.31 146.87,392.54 147.5,391.77 148.13,391.01 148.75,390.25 149.38,389.49 150.01,388.74 150.64,387.99 151.27,387.25 151.9,386.51 152.53,385.77 153.16,385.04 153.79,384.31 154.42,383.58 155.05,382.86 155.68,382.15 156.31,381.44 156.94,380.73 157.57,380.03 158.2,379.34 158.83,378.65 159.46,377.96 160.09,377.29 160.72,376.61 161.35,375.94 161.98,375.28 162.61,374.63 163.24,373.97 163.87,373.33 164.49,372.69 165.12,372.06 165.75,371.43 166.38,370.82 167.01,370.2 167.64,369.6 168.27,369 168.9,368.41 169.53,367.82 170.16,367.24 170.79,366.67 171.42,366.11 172.05,365.55 172.68,365 173.31,364.46 173.94,363.93 174.57,363.4 175.2,362.88 175.83,362.37 176.46,361.87 177.09,361.37 177.72,360.89 178.35,360.41 178.98,359.94 179.61,359.47 180.23,359.02 180.86,358.57 181.49,358.14 182.12,357.71 182.75,357.29 183.38,356.88 184.01,356.48 184.64,356.08 185.27,355.7 185.9,355.32 186.53,354.96 187.16,354.6 187.79,354.25 188.42,353.91 189.05,353.58 189.68,353.26 190.31,352.95 190.94,352.65 191.57,352.35 192.2,352.07 192.83,351.8 193.46,351.53 194.09,351.28 194.72,351.03 195.35,350.8 195.97,350.57 196.6,350.36 197.23,350.15 197.86,349.96 198.49,349.77 199.12,349.59 199.75,349.43 200.38,349.27 201.01,349.13 201.64,348.99 202.27,348.86 202.9,348.75 203.53,348.64 204.16,348.54 204.79,348.46 205.42,348.38 206.05,348.32 206.68,348.26 207.31,348.21 207.94,348.18 208.57,348.15 209.2,348.14 209.83,348.13 210.46,348.14 211.09,348.15 211.71,348.18 212.34,348.21 212.97,348.26 213.6,348.32 214.23,348.38 214.86,348.46 215.49,348.54 216.12,348.64 216.75,348.75 217.38,348.86 218.01,348.99 218.64,349.13 219.27,349.27 219.9,349.43 220.53,349.59 221.16,349.77 221.79,349.96 222.42,350.15 223.05,350.36 223.68,350.57 224.31,350.8 224.94,351.03 225.57,351.28 226.2,351.53 226.83,351.8 227.45,352.07 228.08,352.35 228.71,352.65 229.34,352.95 229.97,353.26 230.6,353.58 231.23,353.91 231.86,354.25 232.49,354.6 233.12,354.96 233.75,355.32 234.38,355.7 235.01,356.08 235.64,356.48 236.27,356.88 236.9,357.29 237.53,357.71 238.16,358.14 238.79,358.57 239.42,359.02 240.05,359.47 240.68,359.94 241.31,360.41 241.94,360.89 242.57,361.37 243.19,361.87 243.82,362.37 244.45,362.88 245.08,363.4 245.71,363.93 246.34,364.46 246.97,365 247.6,365.55 248.23,366.11 248.86,366.67 249.49,367.24 250.12,367.82 250.75,368.41 251.38,369 252.01,369.6 252.64,370.2 253.27,370.82 253.9,371.43 254.53,372.06 255.16,372.69 255.79,373.33 256.42,373.97 257.05,374.63 257.68,375.28 258.31,375.94 258.93,376.61 259.56,377.29 260.19,377.96 260.82,378.65 261.45,379.34 262.08,380.03 262.71,380.73 263.34,381.44 263.97,382.15 264.6,382.86 265.23,383.58 265.86,384.31 266.49,385.04 267.12,385.77 267.75,386.51 268.38,387.25 269.01,387.99 269.64,388.74 270.27,389.49 270.9,390.25 271.53,391.01 272.16,391.77 272.79,392.54 273.42,393.31 274.05,394.08 274.67,394.86 275.3,395.64 275.93,396.42 276.56,397.2 277.19,397.99 277.82,398.78 278.45,399.57 279.08,400.36 279.71,401.15 280.34,401.95 280.97,402.75 281.6,403.54 282.23,404.35 282.86,405.15 283.49,405.95 284.12,406.75 284.75,407.56 285.38,408.36 286.01,409.17 286.64,409.98 287.27,410.78 287.9,411.59 288.53,412.4 289.16,413.21 289.79,414.02 290.41,414.82 291.04,415.63 291.67,416.44 292.3,417.24 292.93,418.05 293.56,418.85 294.19,419.65 294.82,420.45 295.45,421.26 296.08,422.05 296.71,422.85 297.34,423.65 297.97,424.44 298.6,425.23 299.23,426.02 299.86,426.81 300.49,427.6 301.12,428.38 301.75,429.16 302.38,429.94 303.01,430.72 303.64,431.49 304.27,432.26 304.9,433.03 305.53,433.79 306.15,434.55 306.78,435.31 307.41,436.06 308.04,436.81 308.67,437.55 309.3,438.29 309.93,439.03 310.56,439.76 311.19,440.49 311.82,441.22 312.45,441.94 313.08,442.65 313.71,443.36 314.34,444.07 314.97,444.77 315.6,445.46 316.23,446.15 316.86,446.84 317.49,447.51 318.12,448.19 318.75,448.86 319.38,449.52 320.01,450.17 320.64,450.83 321.27,451.47 321.89,452.11 322.52,452.74 323.15,453.37 323.78,453.98 324.41,454.6 325.04,455.2 325.67,455.8 326.3,456.39 326.93,456.98 327.56,457.56 328.19,458.13 328.82,458.69 329.45,459.25 330.08,459.8 330.71,460.34 331.34,460.87 331.97,461.4 332.6,461.92 333.23,462.43 333.86,462.93 334.49,463.43 335.12,463.91 335.75,464.39 336.38,464.86 337.01,465.33 337.63,465.78 338.26,466.23 338.89,466.66 339.52,467.09 340.15,467.51 340.78,467.92 341.41,468.32 342.04,468.72 342.67,469.1 343.3,469.48 343.93,469.84 344.56,470.2 345.19,470.55 345.82,470.89 346.45,471.22 347.08,471.54 347.71,471.85 348.34,472.15 348.97,472.45 349.6,472.73 350.23,473 350.86,473.27 351.49,473.52 352.12,473.77 352.75,474 353.37,474.23 354,474.44 354.63,474.65 355.26,474.84 355.89,475.03 356.52,475.21 357.15,475.37 357.78,475.53 358.41,475.67 359.04,475.81 359.67,475.94 360.3,476.05 360.93,476.16 361.56,476.26 362.19,476.34 362.82,476.42 363.45,476.48 364.08,476.54 364.71,476.59 365.34,476.62 365.97,476.65 366.6,476.66 367.23,476.67" fill="none" stroke="#0072BD" stroke-width="1.2" stroke-linejoin="round"/>
<polyline points="52.3,476.67 52.93,476.66 53.56,476.65 54.19,476.62 54.82,476.59 55.45,476.54 56.08,476.48 56.71,476.42 57.34,476.34 57.97,476.26 58.6,476.16 59.23,476.05 59.86,475.94 60.48,475.81 61.11,475.67 61.74,475.53 62.37,475.37 63,475.21 63.63,475.03 64.26,474.84 64.89,474.65 65.52,474.44 66.15,474.23 66.78,474 67.41,473.77 68.04,473.52 68.67,473.27 69.3,473 69.93,472.73 70.56,472.45 71.19,472.15 71.82,471.85 72.45,471.54 73.08,471.22 73.71,470.89 74.34,470.55 74.97,470.2 75.6,469.84 76.22,469.48 76.85,469.1 77.48,468.72 78.11,468.32 78.74,467.92 79.37,467.51 80,467.09 80.63,466.66 81.26,466.23 81.89,465.78 82.52,465.33 83.15,464.86 83.78,464.39 84.41,463.91 85.04,463.43 85.67,462.93 86.3,462.43 86.93,461.92 87.56,461.4 88.19,460.87 88.82,460.34 89.45,459.8 90.08,459.25 90.71,458.69 91.34,458.13 91.96,457.56 92.59,456.98 93.22,456.39 93.85,455.8 94.48,455.2 95.11,454.6 95.74,453.98 96.37,453.37 97,452.74 97.63,452.11 98.26,451.47 98.89,450.83 99.52,450.17 100.15,449.52 100.78,448.86 101.41,448.19 102.04,447.51 102.67,446.84 103.3,446.15 103.93,445.46 104.56,444.77 105.19,444.07 105.82,443.36 106.45,442.65 107.08,441.94 107.7,441.22 108.33,440.49 108.96,439.76 109.59,439.03 110.22,438.29 110.85,437.55 111.48,436.81 112.11,436.06 112.74,435.31 113.37,434.55 114,433.79 114.63,433.03 115.26,432.26 115.89,431.49 116.52,430.72 117.15,429.94 117.78,429.16 118.41,428.38 119.04,427.6 119.67,426.81 120.3,426.02 120.93,425.23 121.56,424.44 122.19,423.65 122.82,422.85 123.44,422.05 124.07,421.26 124.7,420.45 125.33,419.65 125.96,418.85 126.59,418.05 127.22,417.24 127.85,416.44 128.48,415.63 129.11,414.82 129.74,414.02 130.37,413.21 131,412.4 131.63,411.59 132.26,410.78 132.89,409.98 133.52,409.17 134.15,408.36 134.78,407.56 135.41,406.75 136.04,405.95 136.67,405.15 137.3,404.35 137.93,403.54 138.56,402.75 139.18,401.95 139.81,401.15 140.44,400.36 141.07,399.57 141.7,398.78 142.33,397.99 142.96,397.2 143.59,396.42 144.22,395.64 144.85,394.86 145.48,394.08 146.11,393.31 146.74,392.54 147.37,391.77 148,391.01 148.63,390.25 149.26,389.49 149.89,388.74 150.52,387.99 151.15,387.25 151.78,386.51 152.41,385.77 153.04,385.04 153.67,384.31 154.3,383.58 154.92,382.86 155.55,382.15 156.18,381.44 156.81,380.73 157.44,380.03 158.07,379.34 158.7,378.65 159.33,377.96 159.96,377.29 160.59,376.61 161.22,375.94 161.85,375.28 162.48,374.63 163.11,373.97 163.74,373.33 164.37,372.69 165,372.06 165.63,371.43 166.26,370.82 166.89,370.2 167.52,369.6 168.15,369 168.78,368.41 169.41,367.82 170.04,367.24 170.66,366.67 171.29,366.11 171.92,365.55 172.55,365 173.18,364.46 173.81,363.93 174.44,363.4 175.07,362.88 175.7,362.37 176.33,361.87 176.96,361.37 177.59,360.89 178.22,360.41 178.85,359.94 179.48,359.47 180.11,359.02 180.74,358.57 181.37,358.14 182,357.71 182.63,357.29 183.26,356.88 183.89,356.48 184.52,356.08 185.15,355.7 185.78,355.32 186.4,354.96 187.03,354.6 187.66,354.25 188.29,353.91 188.92,353.58 189.55,353.26 190.18,352.95 190.81,352.65 191.44,352.35 192.07,352.07 192.7,351.8 193.33,351.53 193.96,351.28 194.59,351.03 195.22,350.8 195.85,350.57 196.48,350.36 197.11,350.15 197.74,349.96 198.37,349.77 199,349.59 199.63,349.43 200.26,349.27 200.89,349.13 201.52,348.99 202.14,348.86 202.77,348.75 203.4,348.64 204.03,348.54 204.66,348.46 205.29,348.38 205.92,348.32 206.55,348.26 207.18,348.21 207.81,348.18 208.44,348.15 209.07,348.14 209.7,348.13 210.33,348.14 210.96,348.15 211.59,348.18 212.22,348.21 212.85,348.26 213.48,348.32 214.11,348.38 214.74,348.46 215.37,348.54 216,348.64 216.63,348.75 217.26,348.86 217.88,348.99 218.51,349.13 219.14,349.27 219.77,349.43 220.4,349.59 221.03,349.77 221.66,349.96 222.29,350.15 222.92,350.36 223.55,350.57 224.18,350.8 224.81,351.03 225.44,351.28 226.07,351.53 226.7,351.8 227.33,352.07 227.96,352.35 228.59,352.65 229.22,352.95 229.85,353.26 230.48,353.58 231.11,353.91 231.74,354.25 232.37,354.6 233,354.96 233.62,355.32 234.25,355.7 234.88,356.08 235.51,356.48 236.14,356.88 236.77,357.29 237.4,357.71 238.03,358.14 238.66,358.57 239.29,359.02 239.92,359.47 240.55,359.94 241.18,360.41 241.81,360.89 242.44,361.37 243.07,361.87 243.7,362.37 244.33,362.88 244.96,363.4 245.59,363.93 246.22,364.46 246.85,365 247.48,365.55 248.11,366.11 248.74,366.67 249.36,367.24 249.99,367.82 250.62,368.41 251.25,369 251.88,369.6 252.51,370.2 253.14,370.82 253.77,371.43 254.4,372.06 255.03,372.69 255.66,373.33 256.29,373.97 256.92,374.63 257.55,375.28 258.18,375.94 258.81,376.61 259.44,377.29 260.07,377.96 260.7,378.65 261.33,379.34 261.96,380.03 262.59,380.73 263.22,381.44 263.85,382.15 264.48,382.86 265.1,383.58 265.73,384.31 266.36,385.04 266.99,385.77 267.62,386.51 268.25,387.25 268.88,387.99 269.51,388.74 270.14,389.49 270.77,390.25 271.4,391.01 272.03,391.77 272.66,392.54 273.29,393.31 273.92,394.08 274.55,394.86 275.18,395.64 275.81,396.42 276.44,397.2 277.07,397.99 277.7,398.78 278.33,399.57 278.96,400.36 279.59,401.15 280.22,401.95 280.84,402.75 281.47,403.54 282.1,404.35 282.73,405.15 283.36,405.95 283.99,406.75 284.62,407.56 285.25,408.36 285.88,409.17 286.51,409.98 287.14,410.78 287.77,411.59 288.4,412.4 289.03,413.21 289.66,414.02 290.29,414.82 290.92,415.63 291.55,416.44 292.18,417.24 292.81,418.05 293.44,418.85 294.07,419.65 294.7,420.45 295.33,421.26 295.96,422.05 296.58,422.85 297.21,423.65 297.84,424.44 298.47,425.23 299.1,426.02 299.73,426.81 300.36,427.6 300.99,428.38 301.62,429.16 302.25,429.94 302.88,430.72 303.51,431.49 304.14,432.26 304.77,433.03 305.4,433.79 306.03,434.55 306.66,435.31 307.29,436.06 307.92,436.81 308.55,437.55 309.18,438.29 309.81,439.03 310.44,439.76 311.07,440.49 311.7,441.22 312.32,441.94 312.95,442.65 313.58,443.36 314.21,444.07 314.84,444.77 315.47,445.46 316.1,446.15 316.73,446.84 317.36,447.51 317.99,448.19 318.62,448.86 319.25,449.52 319.88,450.17 320.51,450.83 321.14,451.47 321.77,452.11 322.4,452.74 323.03,453.37 323.66,453.98 324.29,454.6 324.92,455.2 325.55,455.8 326.18,456.39 326.81,456.98 327.44,457.56 328.06,458.13 328.69,458.69 329.32,459.25 329.95,459.8 330.58,460.34 331.21,460.87 331.84,461.4 332.47,461.92 333.1,462.43 333.73,462.93 334.36,463.43 334.99,463.91 335.62,464.39 336.25,464.86 336.88,465.33 337.51,465.78 338.14,466.23 338.77,466.66 339.4,467.09 340.03,467.51 340.66,467.92 341.29,468.32 341.92,468.72 342.55,469.1 343.18,469.48 343.8,469.84 344.43,470.2 345.06,470.55 345.69,470.89 346.32,471.22 346.95,471.54 347.58,471.85 348.21,472.15 348.84,472.45 349.47,472.73 350.1,473 350.73,473.27 351.36,473.52 351.99,473.77 352.62,474 353.25,474.23 353.88,474.44 354.51,474.65 355.14,474.84 355.77,475.03 356.4,475.21 357.03,475.37 357.66,475.53 358.29,475.67 358.92,475.81 359.54,475.94 360.17,476.05 360.8,476.16 361.43,476.26 362.06,476.34 362.69,476.42 363.32,476.48 363.95,476.54 364.58,476.59 365.21,476.62 365.84,476.65 366.47,476.66 367.1,476.67" fill="none" stroke="#7E2F8E" stroke-width="1.45" stroke-linejoin="round"/>
</g>
<line x1="52.3" y1="508.8" x2="52.3" y2="505.8" stroke="#262626" stroke-width="1.2"/>
<line x1="52.3" y1="316" x2="52.3" y2="319" stroke="#262626" stroke-width="1.2"/>
<line x1="115.26" y1="508.8" x2="115.26" y2="505.8" stroke="#262626" stroke-width="1.2"/>
<line x1="115.26" y1="316" x2="115.26" y2="319" stroke="#262626" stroke-width="1.2"/>
<line x1="178.22" y1="508.8" x2="178.22" y2="505.8" stroke="#262626" stroke-width="1.2"/>
<line x1="178.22" y1="316" x2="178.22" y2="319" stroke="#262626" stroke-width="1.2"/>
<line x1="241.18" y1="508.8" x2="241.18" y2="505.8" stroke="#262626" stroke-width="1.2"/>
<line x1="241.18" y1="316" x2="241.18" y2="319" stroke="#262626" stroke-width="1.2"/>
<line x1="304.14" y1="508.8" x2="304.14" y2="505.8" stroke="#262626" stroke-width="1.2"/>
<line x1="304.14" y1="316" x2="304.14" y2="319" stroke="#262626" stroke-width="1.2"/>
<line x1="367.1" y1="508.8" x2="367.1" y2="505.8" stroke="#262626" stroke-width="1.2"/>
<line x1="367.1" y1="316" x2="367.1" y2="319" stroke="#262626" stroke-width="1.2"/>
<line x1="52.3" y1="508.8" x2="55.3" y2="508.8" stroke="#262626" stroke-width="1.2"/>
<line x1="367.1" y1="508.8" x2="364.1" y2="508.8" stroke="#262626" stroke-width="1.2"/>
<line x1="52.3" y1="476.67" x2="55.3" y2="476.67" stroke="#262626" stroke-width="1.2"/>
<line x1="367.1" y1="476.67" x2="364.1" y2="476.67" stroke="#262626" stroke-width="1.2"/>
<line x1="52.3" y1="444.53" x2="55.3" y2="444.53" stroke="#262626" stroke-width="1.2"/>
<line x1="367.1" y1="444.53" x2="364.1" y2="444.53" stroke="#262626" stroke-width="1.2"/>
<line x1="52.3" y1="412.4" x2="55.3" y2="412.4" stroke="#262626" stroke-width="1.2"/>
<line x1="367.1" y1="412.4" x2="364.1" y2="412.4" stroke="#262626" stroke-width="1.2"/>
<line x1="52.3" y1="380.27" x2="55.3" y2="380.27" stroke="#262626" stroke-width="1.2"/>
<line x1="367.1" y1="380.27" x2="364.1" y2="380.27" stroke="#262626" stroke-width="1.2"/>
<line x1="52.3" y1="348.13" x2="55.3" y2="348.13" stroke="#262626" stroke-width="1.2"/>
<line x1="367.1" y1="348.13" x2="364.1" y2="348.13" stroke="#262626" stroke-width="1.2"/>
<line x1="52.3" y1="316" x2="55.3" y2="316" stroke="#262626" stroke-width="1.2"/>
<line x1="367.1" y1="316" x2="364.1" y2="316" stroke="#262626" stroke-width="1.2"/>
<line x1="51.32" y1="316" x2="368.08" y2="316" stroke="#262626" stroke-width="1.5"/>
<line x1="51.32" y1="508.8" x2="368.08" y2="508.8" stroke="#262626" stroke-width="1.5"/>
<line x1="52.3" y1="316" x2="52.3" y2="508.8" stroke="#262626" stroke-width="1.95"/>
<line x1="367.1" y1="316" x2="367.1" y2="508.8" stroke="#262626" stroke-width="1.95"/>
<text transform="translate(52.3 520.94) rotate(0.03) scale(1.54 1)" font-size="9.6" font-weight="bold" text-anchor="middle" fill="#262626">0</text>
<text transform="translate(115.26 520.94) rotate(0.03) scale(1.54 1)" font-size="9.6" font-weight="bold" text-anchor="middle" fill="#262626">2</text>
<text transform="translate(178.22 520.94) rotate(0.03) scale(1.54 1)" font-size="9.6" font-weight="bold" text-anchor="middle" fill="#262626">4</text>
<text transform="translate(241.18 520.94) rotate(0.03) scale(1.54 1)" font-size="9.6" font-weight="bold" text-anchor="middle" fill="#262626">6</text>
<text transform="translate(304.14 520.94) rotate(0.03) scale(1.54 1)" font-size="9.6" font-weight="bold" text-anchor="middle" fill="#262626">8</text>
<text transform="translate(367.1 520.94) rotate(0.03) scale(1.54 1)" font-size="9.6" font-weight="bold" text-anchor="middle" fill="#262626">10</text>
<text transform="translate(47.8 512.69) rotate(0.03) scale(1.54 1)" font-size="9.6" font-weight="bold" text-anchor="end" fill="#262626">-1.5</text>
<text transform="translate(47.8 480.55) rotate(0.03) scale(1.54 1)" font-size="9.6" font-weight="bold" text-anchor="end" fill="#262626">-1</text>
<text transform="translate(47.8 448.42) rotate(0.03) scale(1.54 1)" font-size="9.6" font-weight="bold" text-anchor="end" fill="#262626">-0.5</text>
<text transform="translate(47.8 416.29) rotate(0.03) scale(1.54 1)" font-size="9.6" font-weight="bold" text-anchor="end" fill="#262626">0</text>
<text transform="translate(47.8 384.15) rotate(0.03) scale(1.54 1)" font-size="9.6" font-weight="bold" text-anchor="end" fill="#262626">0.5</text>
<text transform="translate(47.8 352.02) rotate(0.03) scale(1.54 1)" font-size="9.6" font-weight="bold" text-anchor="end" fill="#262626">1</text>
<text transform="translate(47.8 319.89) rotate(0.03) scale(1.54 1)" font-size="9.6" font-weight="bold" text-anchor="end" fill="#262626">1.5</text>
<text transform="translate(209.7 534.2) rotate(0.03) scale(1.48 1)" font-size="11" font-weight="bold" text-anchor="middle" fill="#262626">Time (sec)</text>
<text transform="translate(15.7 412.2) rotate(-90) scale(0.64 1)" font-size="16.6" font-weight="normal" text-anchor="middle" fill="#262626" stroke="#262626" stroke-width="0.75">Theta - 3&#160;&#160;(rad)</text>
<rect x="246.5" y="318.6" width="117.2" height="38.7" fill="#fff"/>
<line x1="245.7" y1="318.6" x2="364.5" y2="318.6" stroke="#262626" stroke-width="1"/>
<line x1="245.7" y1="357.3" x2="364.5" y2="357.3" stroke="#262626" stroke-width="1"/>
<line x1="246.5" y1="318.6" x2="246.5" y2="357.3" stroke="#262626" stroke-width="1.6"/>
<line x1="363.7" y1="318.6" x2="363.7" y2="357.3" stroke="#262626" stroke-width="1.6"/>
<line x1="249" y1="324.2" x2="270.8" y2="324.2" stroke="#3a8fd0" stroke-width="1.5" stroke-opacity="1"/>
<text transform="translate(272.9 327.42) rotate(0.03) scale(1.32 1)" font-size="9" font-weight="bold" text-anchor="start" fill="#262626" stroke="#262626" stroke-width="0.18">NN-PIPD</text>
<line x1="249" y1="333.4" x2="270.8" y2="333.4" stroke="#D95319" stroke-width="0.8" stroke-opacity="1"/>
<text transform="translate(272.9 336.62) rotate(0.03) scale(1.32 1)" font-size="9" font-weight="bold" text-anchor="start" fill="#262626" stroke="#262626" stroke-width="0.18">NN+PID</text>
<line x1="249" y1="342.9" x2="270.8" y2="342.9" stroke="#EDB120" stroke-width="0.9" stroke-opacity="1"/>
<text transform="translate(272.9 346.12) rotate(0.03) scale(1.32 1)" font-size="9" font-weight="bold" text-anchor="start" fill="#262626" stroke="#262626" stroke-width="0.18">ELNN-PID</text>
<line x1="249" y1="352.4" x2="270.8" y2="352.4" stroke="#9450a5" stroke-width="1.3" stroke-opacity="1"/>
<text transform="translate(272.9 355.62) rotate(0.03) scale(1.32 1)" font-size="9" font-weight="bold" text-anchor="start" fill="#262626" stroke="#262626" stroke-width="0.18">Desired Theta-3</text>
<rect x="168.5" y="403.5" width="101" height="82" fill="#fff"/>
<line x1="219.6" y1="403.5" x2="219.6" y2="485.5" stroke="#e2e2e2" stroke-width="0.8"/>
<line x1="168.5" y1="467.8" x2="269.5" y2="467.8" stroke="#e2e2e2" stroke-width="0.8"/>
<line x1="168.5" y1="451" x2="269.5" y2="451" stroke="#e2e2e2" stroke-width="0.8"/>
<line x1="168.5" y1="434.2" x2="269.5" y2="434.2" stroke="#e2e2e2" stroke-width="0.8"/>
<line x1="168.5" y1="417.4" x2="269.5" y2="417.4" stroke="#e2e2e2" stroke-width="0.8"/>
<clipPath id="c6"><rect x="168.5" y="403.5" width="101" height="82"/></clipPath>
<g clip-path="url(#c6)">
<polyline points="165.63,437.86 166.54,436.96 167.44,436.08 168.35,435.22 169.26,434.37 170.17,433.53 171.07,432.72 171.98,431.92 172.89,431.13 173.79,430.37 174.7,429.62 175.61,428.88 176.51,428.17 177.42,427.47 178.33,426.78 179.24,426.12 180.14,425.47 181.05,424.83 181.96,424.21 182.86,423.61 183.77,423.03 184.68,422.46 185.59,421.91 186.49,421.37 187.4,420.86 188.31,420.35 189.21,419.87 190.12,419.4 191.03,418.95 191.93,418.51 192.84,418.1 193.75,417.69 194.66,417.31 195.56,416.94 196.47,416.59 197.38,416.25 198.28,415.93 199.19,415.63 200.1,415.35 201.01,415.08 201.91,414.82 202.82,414.59 203.73,414.37 204.63,414.17 205.54,413.98 206.45,413.81 207.35,413.66 208.26,413.52 209.17,413.4 210.08,413.3 210.98,413.21 211.89,413.14 212.8,413.09 213.7,413.06 214.61,413.04 215.52,413.03 216.43,413.05 217.33,413.08 218.24,413.12 219.15,413.19 220.05,413.27 220.96,413.36 221.87,413.48 222.77,413.61 223.68,413.75 224.59,413.92 225.5,414.1 226.4,414.29 227.31,414.51 228.22,414.74 229.12,414.98 230.03,415.25 230.94,415.52 231.85,415.82 232.75,416.13 233.66,416.46 234.57,416.81 235.47,417.17 236.38,417.55 237.29,417.95 238.19,418.36 239.1,418.79 240.01,419.23 240.92,419.7 241.82,420.17 242.73,420.67 243.64,421.18 244.54,421.71 245.45,422.26 246.36,422.82 247.27,423.4 248.17,423.99 249.08,424.6 249.99,425.23 250.89,425.88 251.8,426.54 252.71,427.21 253.61,427.91 254.52,428.62 255.43,429.35 256.34,430.09 257.24,430.85 258.15,431.63 259.06,432.42 259.96,433.23 260.87,434.06 261.78,434.9 262.69,435.76 263.59,436.64 264.5,437.53 265.41,438.44 266.31,439.37 267.22,440.31 268.13,441.27 269.03,442.24 269.94,443.23 270.85,444.24 271.76,445.27 272.66,446.31 273.57,447.37" fill="none" stroke="#D95319" stroke-width="0.75" stroke-linejoin="round"/>
<polyline points="165.63,461.73 166.54,460.75 167.44,459.8 168.35,458.86 169.26,457.94 170.17,457.03 171.07,456.14 171.98,455.27 172.89,454.41 173.79,453.57 174.7,452.74 175.61,451.94 176.51,451.14 177.42,450.37 178.33,449.61 179.24,448.87 180.14,448.14 181.05,447.43 181.96,446.74 182.86,446.06 183.77,445.4 184.68,444.76 185.59,444.13 186.49,443.52 187.4,442.93 188.31,442.35 189.21,441.79 190.12,441.24 191.03,440.71 191.93,440.2 192.84,439.71 193.75,439.23 194.66,438.77 195.56,438.32 196.47,437.89 197.38,437.48 198.28,437.08 199.19,436.7 200.1,436.34 201.01,435.99 201.91,435.66 202.82,435.35 203.73,435.05 204.63,434.77 205.54,434.5 206.45,434.26 207.35,434.03 208.26,433.81 209.17,433.61 210.08,433.43 210.98,433.27 211.89,433.12 212.8,432.98 213.7,432.87 214.61,432.77 215.52,432.69 216.43,432.62 217.33,432.57 218.24,432.54 219.15,432.52 220.05,432.52 220.96,432.54 221.87,432.57 222.77,432.62 223.68,432.69 224.59,432.77 225.5,432.87 226.4,432.98 227.31,433.12 228.22,433.27 229.12,433.43 230.03,433.61 230.94,433.81 231.85,434.03 232.75,434.26 233.66,434.5 234.57,434.77 235.47,435.05 236.38,435.35 237.29,435.66 238.19,435.99 239.1,436.34 240.01,436.7 240.92,437.08 241.82,437.48 242.73,437.89 243.64,438.32 244.54,438.77 245.45,439.23 246.36,439.71 247.27,440.2 248.17,440.71 249.08,441.24 249.99,441.79 250.89,442.35 251.8,442.93 252.71,443.52 253.61,444.13 254.52,444.76 255.43,445.4 256.34,446.06 257.24,446.74 258.15,447.43 259.06,448.14 259.96,448.87 260.87,449.61 261.78,450.37 262.69,451.14 263.59,451.94 264.5,452.74 265.41,453.57 266.31,454.41 267.22,455.27 268.13,456.14 269.03,457.03 269.94,457.94 270.85,458.86 271.76,459.8 272.66,460.75 273.57,461.73" fill="none" stroke="#EDB120" stroke-width="0.75" stroke-linejoin="round"/>
<polyline points="165.63,463.07 166.54,462.1 167.44,461.14 168.35,460.2 169.26,459.28 170.17,458.37 171.07,457.48 171.98,456.61 172.89,455.75 173.79,454.91 174.7,454.09 175.61,453.28 176.51,452.49 177.42,451.71 178.33,450.95 179.24,450.21 180.14,449.49 181.05,448.78 181.96,448.08 182.86,447.41 183.77,446.75 184.68,446.1 185.59,445.48 186.49,444.86 187.4,444.27 188.31,443.69 189.21,443.13 190.12,442.59 191.03,442.06 191.93,441.55 192.84,441.05 193.75,440.57 194.66,440.11 195.56,439.66 196.47,439.23 197.38,438.82 198.28,438.43 199.19,438.05 200.1,437.68 201.01,437.34 201.91,437.01 202.82,436.69 203.73,436.39 204.63,436.11 205.54,435.85 206.45,435.6 207.35,435.37 208.26,435.15 209.17,434.96 210.08,434.77 210.98,434.61 211.89,434.46 212.8,434.33 213.7,434.21 214.61,434.11 215.52,434.03 216.43,433.97 217.33,433.92 218.24,433.88 219.15,433.87 220.05,433.87 220.96,433.88 221.87,433.92 222.77,433.97 223.68,434.03 224.59,434.11 225.5,434.21 226.4,434.33 227.31,434.46 228.22,434.61 229.12,434.77 230.03,434.96 230.94,435.15 231.85,435.37 232.75,435.6 233.66,435.85 234.57,436.11 235.47,436.39 236.38,436.69 237.29,437.01 238.19,437.34 239.1,437.68 240.01,438.05 240.92,438.43 241.82,438.82 242.73,439.23 243.64,439.66 244.54,440.11 245.45,440.57 246.36,441.05 247.27,441.55 248.17,442.06 249.08,442.59 249.99,443.13 250.89,443.69 251.8,444.27 252.71,444.86 253.61,445.48 254.52,446.1 255.43,446.75 256.34,447.41 257.24,448.08 258.15,448.78 259.06,449.49 259.96,450.21 260.87,450.95 261.78,451.71 262.69,452.49 263.59,453.28 264.5,454.09 265.41,454.91 266.31,455.75 267.22,456.61 268.13,457.48 269.03,458.37 269.94,459.28 270.85,460.2 271.76,461.14 272.66,462.1 273.57,463.07" fill="none" stroke="#0072BD" stroke-width="0.75" stroke-linejoin="round"/>
<polyline points="165.63,463.41 166.54,462.43 167.44,461.48 168.35,460.54 169.26,459.62 170.17,458.71 171.07,457.82 171.98,456.95 172.89,456.09 173.79,455.25 174.7,454.42 175.61,453.62 176.51,452.82 177.42,452.05 178.33,451.29 179.24,450.55 180.14,449.82 181.05,449.11 181.96,448.42 182.86,447.74 183.77,447.08 184.68,446.44 185.59,445.81 186.49,445.2 187.4,444.61 188.31,444.03 189.21,443.47 190.12,442.92 191.03,442.39 191.93,441.88 192.84,441.39 193.75,440.91 194.66,440.45 195.56,440 196.47,439.57 197.38,439.16 198.28,438.76 199.19,438.38 200.1,438.02 201.01,437.67 201.91,437.34 202.82,437.03 203.73,436.73 204.63,436.45 205.54,436.18 206.45,435.94 207.35,435.71 208.26,435.49 209.17,435.29 210.08,435.11 210.98,434.95 211.89,434.8 212.8,434.66 213.7,434.55 214.61,434.45 215.52,434.37 216.43,434.3 217.33,434.25 218.24,434.22 219.15,434.2 220.05,434.2 220.96,434.22 221.87,434.25 222.77,434.3 223.68,434.37 224.59,434.45 225.5,434.55 226.4,434.66 227.31,434.8 228.22,434.95 229.12,435.11 230.03,435.29 230.94,435.49 231.85,435.71 232.75,435.94 233.66,436.18 234.57,436.45 235.47,436.73 236.38,437.03 237.29,437.34 238.19,437.67 239.1,438.02 240.01,438.38 240.92,438.76 241.82,439.16 242.73,439.57 243.64,440 244.54,440.45 245.45,440.91 246.36,441.39 247.27,441.88 248.17,442.39 249.08,442.92 249.99,443.47 250.89,444.03 251.8,444.61 252.71,445.2 253.61,445.81 254.52,446.44 255.43,447.08 256.34,447.74 257.24,448.42 258.15,449.11 259.06,449.82 259.96,450.55 260.87,451.29 261.78,452.05 262.69,452.82 263.59,453.62 264.5,454.42 265.41,455.25 266.31,456.09 267.22,456.95 268.13,457.82 269.03,458.71 269.94,459.62 270.85,460.54 271.76,461.48 272.66,462.43 273.57,463.41" fill="none" stroke="#7E2F8E" stroke-width="0.75" stroke-linejoin="round"/>
</g>
<line x1="168.2" y1="485.5" x2="168.2" y2="483.5" stroke="#454545" stroke-width="0.72"/>
<line x1="168.2" y1="403.5" x2="168.2" y2="405.5" stroke="#454545" stroke-width="0.72"/>
<line x1="219.6" y1="485.5" x2="219.6" y2="483.5" stroke="#454545" stroke-width="0.72"/>
<line x1="219.6" y1="403.5" x2="219.6" y2="405.5" stroke="#454545" stroke-width="0.72"/>
<line x1="168.5" y1="484.6" x2="170.5" y2="484.6" stroke="#454545" stroke-width="0.72"/>
<line x1="269.5" y1="484.6" x2="267.5" y2="484.6" stroke="#454545" stroke-width="0.72"/>
<line x1="168.5" y1="467.8" x2="170.5" y2="467.8" stroke="#454545" stroke-width="0.72"/>
<line x1="269.5" y1="467.8" x2="267.5" y2="467.8" stroke="#454545" stroke-width="0.72"/>
<line x1="168.5" y1="451" x2="170.5" y2="451" stroke="#454545" stroke-width="0.72"/>
<line x1="269.5" y1="451" x2="267.5" y2="451" stroke="#454545" stroke-width="0.72"/>
<line x1="168.5" y1="434.2" x2="170.5" y2="434.2" stroke="#454545" stroke-width="0.72"/>
<line x1="269.5" y1="434.2" x2="267.5" y2="434.2" stroke="#454545" stroke-width="0.72"/>
<line x1="168.5" y1="417.4" x2="170.5" y2="417.4" stroke="#454545" stroke-width="0.72"/>
<line x1="269.5" y1="417.4" x2="267.5" y2="417.4" stroke="#454545" stroke-width="0.72"/>
<line x1="167.98" y1="403.5" x2="270.02" y2="403.5" stroke="#454545" stroke-width="0.9"/>
<line x1="167.98" y1="485.5" x2="270.02" y2="485.5" stroke="#454545" stroke-width="0.9"/>
<line x1="168.5" y1="403.5" x2="168.5" y2="485.5" stroke="#454545" stroke-width="1.03"/>
<line x1="269.5" y1="403.5" x2="269.5" y2="485.5" stroke="#454545" stroke-width="1.03"/>
<text transform="translate(168.2 497.12) rotate(0.03) scale(1.19 1)" font-size="9" font-weight="bold" text-anchor="middle" fill="#262626">4.8</text>
<text transform="translate(219.6 497.12) rotate(0.03) scale(1.19 1)" font-size="9" font-weight="bold" text-anchor="middle" fill="#262626">5</text>
<text transform="translate(166 488.27) rotate(0.03) scale(1.19 1)" font-size="9" font-weight="bold" text-anchor="end" fill="#262626">0.985</text>
<text transform="translate(166 471.47) rotate(0.03) scale(1.19 1)" font-size="9" font-weight="bold" text-anchor="end" fill="#262626">0.99</text>
<text transform="translate(166 454.67) rotate(0.03) scale(1.19 1)" font-size="9" font-weight="bold" text-anchor="end" fill="#262626">0.995</text>
<text transform="translate(166 437.87) rotate(0.03) scale(1.19 1)" font-size="9" font-weight="bold" text-anchor="end" fill="#262626">1</text>
<text transform="translate(166 421.07) rotate(0.03) scale(1.19 1)" font-size="9" font-weight="bold" text-anchor="end" fill="#262626">1.005</text>
<text transform="translate(207.9 555.8) rotate(0.03)" font-size="15.6" font-weight="bold" text-anchor="middle" fill="#0d0d0d" font-family='"Liberation Serif", "Times New Roman", serif' stroke="#0d0d0d" stroke-width="0.25">(c)</text>
<rect x="432.2" y="316" width="314.05" height="194.4" fill="#fff"/>
<line x1="484.54" y1="316" x2="484.54" y2="510.4" stroke="#d5d5d5" stroke-width="1.38"/>
<line x1="536.88" y1="316" x2="536.88" y2="510.4" stroke="#d5d5d5" stroke-width="1.38"/>
<line x1="589.23" y1="316" x2="589.23" y2="510.4" stroke="#d5d5d5" stroke-width="1.38"/>
<line x1="641.57" y1="316" x2="641.57" y2="510.4" stroke="#d5d5d5" stroke-width="1.38"/>
<line x1="693.91" y1="316" x2="693.91" y2="510.4" stroke="#d5d5d5" stroke-width="1.38"/>
<line x1="432.2" y1="478" x2="746.25" y2="478" stroke="#dfdfdf" stroke-width="1"/>
<line x1="432.2" y1="445.6" x2="746.25" y2="445.6" stroke="#dfdfdf" stroke-width="1"/>
<line x1="432.2" y1="413.2" x2="746.25" y2="413.2" stroke="#dfdfdf" stroke-width="1"/>
<line x1="432.2" y1="380.8" x2="746.25" y2="380.8" stroke="#dfdfdf" stroke-width="1"/>
<line x1="432.2" y1="348.4" x2="746.25" y2="348.4" stroke="#dfdfdf" stroke-width="1"/>
<clipPath id="c7"><rect x="432.2" y="316" width="314.05" height="194.4"/></clipPath>
<g clip-path="url(#c7)">
<polyline points="661.7,442.88 663.3,442.23 664.88,441.57 666.44,440.91 667.98,440.24 669.5,439.57 671.01,438.88 672.49,438.2 673.95,437.51 675.39,436.81 676.81,436.11 678.21,435.4 679.58,434.68 680.93,433.96 682.25,433.24 683.55,432.51 684.83,431.77 686.08,431.03 687.31,430.28 688.5,429.53 689.68,428.77 690.82,428.01 691.94,427.24 693.03,426.47 694.09,425.69 695.12,424.91 696.12,424.13 697.09,423.34 698.03,422.54 698.94,421.74 699.82,420.94 700.67,420.13 701.49,419.32 702.27,418.51 703.02,417.69 703.74,416.87 704.42,416.04 705.07,415.21 705.69,414.38 706.27,413.54 706.82,412.71 707.33,411.86 707.81,411.02 708.25,410.17 708.65,409.32 709.02,408.47 709.35,407.62 709.65,406.76 709.91,405.9 710.13,405.04 710.31,404.18 710.46,403.32 710.56,402.46 710.63,401.59 710.67,400.73 710.66,399.86 710.61,398.99 710.53,398.12 710.4,397.25 710.24,396.39 710.04,395.52 709.8,394.65 709.52,393.78 709.2,392.91 708.85,392.05 708.45,391.18 708.01,390.31 707.54,389.45 707.02,388.59 706.47,387.72 705.88,386.86 705.25,386.01 704.58,385.15 703.87,384.3 703.12,383.45 702.33,382.6 701.51,381.75 700.65,380.91 699.75,380.07 698.81,379.23 697.83,378.4 696.82,377.57 695.77,376.74 694.69,375.92 693.56,375.1 692.41,374.28 691.21,373.47 689.98,372.67 688.72,371.87 687.42,371.07 686.08,370.28 684.72,369.5 683.32,368.72 681.88,367.94 680.41,367.17 678.92,366.41 677.38,365.65 675.82,364.9 674.23,364.15 672.61,363.42 670.95,362.68 669.27,361.96 667.56,361.24 665.82,360.53 664.06,359.82 662.27,359.13 660.45,358.44 658.6,357.75 656.73,357.08 654.84,356.41 652.92,355.75 650.98,355.1 649.02,354.45 647.03,353.82 645.03,353.19 643,352.57 640.96,351.96 638.89,351.35 636.81,350.76 634.71,350.17 632.59,349.59 630.45,349.03 628.3,348.47 626.14,347.91 623.96,347.37 621.77,346.84 619.57,346.31 617.35,345.8 615.13,345.29 612.89,344.79 610.65,344.31 608.39,343.83 606.13,343.36 603.86,342.9 601.58,342.44 599.3,342 597.02,341.57 594.73,341.14 592.43,340.73 590.14,340.32 587.84,339.93 585.54,339.54 583.25,339.16 580.95,338.8 578.65,338.44 576.36,338.09 574.06,337.75 571.78,337.41 569.49,337.09 567.21,336.78 564.94,336.47 562.67,336.18 560.41,335.89 558.16,335.61 555.91,335.34 553.68,335.08 551.45,334.83 549.24,334.59 547.03,334.35 544.84,334.13 542.66,333.91 540.5,333.7 538.34,333.5 536.2,333.31 534.08,333.12 531.97,332.94 529.88,332.78 527.8,332.62 525.74,332.46 523.7,332.32 521.68,332.18 519.68,332.05 517.69,331.93 515.73,331.81 513.78,331.7 511.86,331.6 509.95,331.51 508.07,331.42 506.21,331.34 504.38,331.26 502.56,331.2 500.77,331.13 499.01,331.08 497.26,331.03 495.55,330.99 493.85,330.95 492.18,330.92 490.54,330.9 488.92,330.88 487.33,330.87 485.77,330.86 484.23,330.86 482.72,330.86 481.24,330.87 479.78,330.88 478.36,330.9 476.96,330.92 475.58,330.95 474.24,330.98 472.93,331.02 471.64,331.06 470.38,331.1 469.16,331.15 467.96,331.21 466.79,331.26 465.65,331.33 464.54,331.39 463.46,331.46 462.41,331.53 461.39,331.61 460.4,331.69 459.44,331.77 458.51,331.85 457.61,331.94 456.74,332.03 455.9,332.13 455.09,332.23 454.32,332.33 453.57,332.43 452.85,332.53 452.16,332.64 451.51,332.75 450.88,332.86 450.28,332.98 449.72,333.09 449.18,333.21 448.68,333.33 448.2,333.45 447.75,333.58 447.34,333.7 446.95,333.83 446.6,333.96 446.27,334.09 445.97,334.22 445.71,334.36 445.47,334.49 445.26,334.63 445.08,334.77 444.93,334.91 444.81,335.05 444.72,335.19 444.65,335.33 444.62,335.48 444.61,335.62 444.63,335.77 444.68,335.91 444.76,336.06 444.87,336.21 445,336.36 445.16,336.51 445.35,336.66 445.56,336.81 445.81,336.97 446.08,337.12 446.37,337.27 446.7,337.43 447.04,337.58 447.42,337.74 447.82,337.9 448.25,338.05 448.7,338.21 449.18,338.37 449.69,338.53 450.21,338.69 450.77,338.85 451.35,339.01 451.95,339.18 452.58,339.34 453.23,339.5 453.91,339.67 454.61,339.83 455.33,340 456.08,340.17 456.85,340.33 457.64,340.5 458.46,340.67 459.3,340.84 460.16,341.01 461.04,341.18 461.95,341.35 462.87,341.53 463.82,341.7 464.79,341.87 465.79,342.05 466.8,342.23 467.83,342.4 468.89,342.58 469.96,342.76 471.06,342.95 472.17,343.13 473.31,343.31 474.46,343.5 475.64,343.68 476.83,343.87 478.04,344.06 479.28,344.25 480.53,344.44 481.79,344.64 483.08,344.83 484.39,345.03 485.71,345.23 487.05,345.43 488.41,345.63 489.78,345.83 491.17,346.04 492.58,346.25 494,346.45 495.45,346.67 496.9,346.88 498.38,347.1 499.86,347.31 501.37,347.54 502.89,347.76 504.42,347.98 505.97,348.21 507.53,348.44 509.11,348.67 510.7,348.91 512.3,349.15 513.92,349.39 515.55,349.63 517.2,349.88 518.86,350.13 520.53,350.38 522.21,350.64 523.9,350.9 525.61,351.16 527.32,351.42 529.05,351.69 530.79,351.97 532.54,352.24 534.3,352.52 536.07,352.8 537.85,353.09 539.64,353.38 541.44,353.67 543.25,353.97 545.07,354.27 546.89,354.58 548.73,354.89 550.57,355.2 552.42,355.52 554.27,355.84 556.14,356.17 558.01,356.5 559.88,356.84 561.76,357.18 563.65,357.52 565.54,357.87 567.44,358.22 569.34,358.58 571.25,358.94 573.16,359.31 575.07,359.68 576.99,360.06 578.91,360.45 580.83,360.83 582.76,361.23 584.69,361.62 586.61,362.03 588.54,362.44 590.47,362.85 592.4,363.27 594.33,363.7 596.26,364.13 598.19,364.56 600.11,365 602.04,365.45 603.96,365.9 605.88,366.36 607.8,366.82 609.71,367.29 611.62,367.77 613.53,368.25 615.43,368.74 617.32,369.23 619.21,369.73 621.1,370.23 622.98,370.75 624.85,371.26 626.71,371.79 628.56,372.31 630.41,372.85 632.25,373.39 634.08,373.94 635.9,374.49 637.71,375.05 639.51,375.61 641.29,376.19 643.07,376.76 644.83,377.35 646.58,377.94 648.32,378.53 650.05,379.14 651.76,379.74 653.45,380.36 655.13,380.98 656.8,381.61 658.45,382.24 660.08,382.88 661.7,383.52 663.3,384.17 664.88,384.83 666.44,385.49 667.98,386.16 669.5,386.83 671.01,387.52 672.49,388.2 673.95,388.89 675.39,389.59 676.81,390.29 678.21,391 679.58,391.72 680.93,392.44 682.25,393.16 683.55,393.89 684.83,394.63 686.08,395.37 687.31,396.12 688.5,396.87 689.68,397.63 690.82,398.39 691.94,399.16 693.03,399.93 694.09,400.71 695.12,401.49 696.12,402.27 697.09,403.06 698.03,403.86 698.94,404.66 699.82,405.46 700.67,406.27 701.49,407.08 702.27,407.89 703.02,408.71 703.74,409.53 704.42,410.36 705.07,411.19 705.69,412.02 706.27,412.86 706.82,413.69 707.33,414.54 707.81,415.38 708.25,416.23 708.65,417.08 709.02,417.93 709.35,418.78 709.65,419.64 709.91,420.5 710.13,421.36 710.31,422.22 710.46,423.08 710.56,423.94 710.63,424.81 710.67,425.67 710.66,426.54 710.61,427.41 710.53,428.28 710.4,429.15 710.24,430.01 710.04,430.88 709.8,431.75 709.52,432.62 709.2,433.49 708.85,434.35 708.45,435.22 708.01,436.09 707.54,436.95 707.02,437.81 706.47,438.68 705.88,439.54 705.25,440.39 704.58,441.25 703.87,442.1 703.12,442.95 702.33,443.8 701.51,444.65 700.65,445.49 699.75,446.33 698.81,447.17 697.83,448 696.82,448.83 695.77,449.66 694.69,450.48 693.56,451.3 692.41,452.12 691.21,452.93 689.98,453.73 688.72,454.53 687.42,455.33 686.08,456.12 684.72,456.9 683.32,457.68 681.88,458.46 680.41,459.23 678.92,459.99 677.38,460.75 675.82,461.5 674.23,462.25 672.61,462.98 670.95,463.72 669.27,464.44 667.56,465.16 665.82,465.87 664.06,466.58 662.27,467.27 660.45,467.96 658.6,468.65 656.73,469.32 654.84,469.99 652.92,470.65 650.98,471.3 649.02,471.95 647.03,472.58 645.03,473.21 643,473.83 640.96,474.44 638.89,475.05 636.81,475.64 634.71,476.23 632.59,476.81 630.45,477.37 628.3,477.93 626.14,478.49 623.96,479.03 621.77,479.56 619.57,480.09 617.35,480.6 615.13,481.11 612.89,481.61 610.65,482.09 608.39,482.57 606.13,483.04 603.86,483.5 601.58,483.96 599.3,484.4 597.02,484.83 594.73,485.26 592.43,485.67 590.14,486.08 587.84,486.47 585.54,486.86 583.25,487.24 580.95,487.6 578.65,487.96 576.36,488.31 574.06,488.65 571.78,488.99 569.49,489.31 567.21,489.62 564.94,489.93 562.67,490.22 560.41,490.51 558.16,490.79 555.91,491.06 553.68,491.32 551.45,491.57 549.24,491.81 547.03,492.05 544.84,492.27 542.66,492.49 540.5,492.7 538.34,492.9 536.2,493.09 534.08,493.28 531.97,493.46 529.88,493.62 527.8,493.78 525.74,493.94 523.7,494.08 521.68,494.22 519.68,494.35 517.69,494.47 515.73,494.59 513.78,494.7 511.86,494.8 509.95,494.89 508.07,494.98 506.21,495.06 504.38,495.14 502.56,495.2 500.77,495.27 499.01,495.32 497.26,495.37 495.55,495.41 493.85,495.45 492.18,495.48 490.54,495.5 488.92,495.52 487.33,495.53 485.77,495.54 484.23,495.54 482.72,495.54 481.24,495.53 479.78,495.52 478.36,495.5 476.96,495.48 475.58,495.45 474.24,495.42 472.93,495.38 471.64,495.34 470.38,495.3 469.16,495.25 467.96,495.19 466.79,495.14 465.65,495.07 464.54,495.01 463.46,494.94 462.41,494.87 461.39,494.79 460.4,494.71 459.44,494.63 458.51,494.55 457.61,494.46 456.74,494.37 455.9,494.27 455.09,494.17 454.32,494.07 453.57,493.97 452.85,493.87 452.16,493.76 451.51,493.65 450.88,493.54 450.28,493.42 449.72,493.31 449.18,493.19 448.68,493.07 448.2,492.95 447.75,492.82 447.34,492.7 446.95,492.57 446.6,492.44 446.27,492.31 445.97,492.18 445.71,492.04 445.47,491.91 445.26,491.77 445.08,491.63 444.93,491.49 444.81,491.35 444.72,491.21 444.65,491.07 444.62,490.92 444.61,490.78 444.63,490.63 444.68,490.49 444.76,490.34 444.87,490.19 445,490.04 445.16,489.89 445.35,489.74 445.56,489.59 445.81,489.43 446.08,489.28 446.37,489.13 446.7,488.97 447.04,488.82 447.42,488.66 447.82,488.5 448.25,488.35 448.7,488.19 449.18,488.03 449.69,487.87 450.21,487.71 450.77,487.55 451.35,487.39 451.95,487.22 452.58,487.06 453.23,486.9 453.91,486.73 454.61,486.57 455.33,486.4 456.08,486.23 456.85,486.07 457.64,485.9 458.46,485.73 459.3,485.56 460.16,485.39 461.04,485.22 461.95,485.05 462.87,484.87 463.82,484.7 464.79,484.53 465.79,484.35 466.8,484.17 467.83,484 468.89,483.82 469.96,483.64 471.06,483.45 472.17,483.27 473.31,483.09 474.46,482.9 475.64,482.72 476.83,482.53 478.04,482.34 479.28,482.15 480.53,481.96 481.79,481.76 483.08,481.57 484.39,481.37 485.71,481.17 487.05,480.97 488.41,480.77 489.78,480.57 491.17,480.36 492.58,480.15 494,479.95 495.45,479.73 496.9,479.52 498.38,479.3 499.86,479.09 501.37,478.86 502.89,478.64 504.42,478.42 505.97,478.19 507.53,477.96 509.11,477.73 510.7,477.49 512.3,477.25 513.92,477.01 515.55,476.77 517.2,476.52 518.86,476.27 520.53,476.02 522.21,475.76 523.9,475.5 525.61,475.24 527.32,474.98 529.05,474.71 530.79,474.43 532.54,474.16 534.3,473.88 536.07,473.6 537.85,473.31 539.64,473.02 541.44,472.73 543.25,472.43 545.07,472.13 546.89,471.82 548.73,471.51 550.57,471.2 552.42,470.88 554.27,470.56 556.14,470.23 558.01,469.9 559.88,469.56 561.76,469.22 563.65,468.88 565.54,468.53 567.44,468.18 569.34,467.82 571.25,467.46 573.16,467.09 575.07,466.72 576.99,466.34 578.91,465.95 580.83,465.57 582.76,465.17 584.69,464.78 586.61,464.37 588.54,463.96 590.47,463.55 592.4,463.13 594.33,462.7 596.26,462.27 598.19,461.84 600.11,461.4 602.04,460.95 603.96,460.5 605.88,460.04 607.8,459.58 609.71,459.11 611.62,458.63 613.53,458.15 615.43,457.66 617.32,457.17 619.21,456.67 621.1,456.17 622.98,455.65 624.85,455.14 626.71,454.61 628.56,454.09 630.41,453.55 632.25,453.01 634.08,452.46 635.9,451.91 637.71,451.35 639.51,450.79 641.29,450.21 643.07,449.64 644.83,449.05 646.58,448.46 648.32,447.87 650.05,447.26 651.76,446.66 653.45,446.04 655.13,445.42 656.8,444.79 658.45,444.16 660.08,443.52 661.7,442.88" fill="none" stroke="#7E2F8E" stroke-width="1.15" stroke-linejoin="round"/>
</g>
<line x1="432.2" y1="510.4" x2="432.2" y2="507.4" stroke="#262626" stroke-width="1.2"/>
<line x1="432.2" y1="316" x2="432.2" y2="319" stroke="#262626" stroke-width="1.2"/>
<line x1="484.54" y1="510.4" x2="484.54" y2="507.4" stroke="#262626" stroke-width="1.2"/>
<line x1="484.54" y1="316" x2="484.54" y2="319" stroke="#262626" stroke-width="1.2"/>
<line x1="536.88" y1="510.4" x2="536.88" y2="507.4" stroke="#262626" stroke-width="1.2"/>
<line x1="536.88" y1="316" x2="536.88" y2="319" stroke="#262626" stroke-width="1.2"/>
<line x1="589.23" y1="510.4" x2="589.23" y2="507.4" stroke="#262626" stroke-width="1.2"/>
<line x1="589.23" y1="316" x2="589.23" y2="319" stroke="#262626" stroke-width="1.2"/>
<line x1="641.57" y1="510.4" x2="641.57" y2="507.4" stroke="#262626" stroke-width="1.2"/>
<line x1="641.57" y1="316" x2="641.57" y2="319" stroke="#262626" stroke-width="1.2"/>
<line x1="693.91" y1="510.4" x2="693.91" y2="507.4" stroke="#262626" stroke-width="1.2"/>
<line x1="693.91" y1="316" x2="693.91" y2="319" stroke="#262626" stroke-width="1.2"/>
<line x1="746.25" y1="510.4" x2="746.25" y2="507.4" stroke="#262626" stroke-width="1.2"/>
<line x1="746.25" y1="316" x2="746.25" y2="319" stroke="#262626" stroke-width="1.2"/>
<line x1="432.2" y1="510.4" x2="435.2" y2="510.4" stroke="#262626" stroke-width="1.2"/>
<line x1="746.25" y1="510.4" x2="743.25" y2="510.4" stroke="#262626" stroke-width="1.2"/>
<line x1="432.2" y1="478" x2="435.2" y2="478" stroke="#262626" stroke-width="1.2"/>
<line x1="746.25" y1="478" x2="743.25" y2="478" stroke="#262626" stroke-width="1.2"/>
<line x1="432.2" y1="445.6" x2="435.2" y2="445.6" stroke="#262626" stroke-width="1.2"/>
<line x1="746.25" y1="445.6" x2="743.25" y2="445.6" stroke="#262626" stroke-width="1.2"/>
<line x1="432.2" y1="413.2" x2="435.2" y2="413.2" stroke="#262626" stroke-width="1.2"/>
<line x1="746.25" y1="413.2" x2="743.25" y2="413.2" stroke="#262626" stroke-width="1.2"/>
<line x1="432.2" y1="380.8" x2="435.2" y2="380.8" stroke="#262626" stroke-width="1.2"/>
<line x1="746.25" y1="380.8" x2="743.25" y2="380.8" stroke="#262626" stroke-width="1.2"/>
<line x1="432.2" y1="348.4" x2="435.2" y2="348.4" stroke="#262626" stroke-width="1.2"/>
<line x1="746.25" y1="348.4" x2="743.25" y2="348.4" stroke="#262626" stroke-width="1.2"/>
<line x1="432.2" y1="316" x2="435.2" y2="316" stroke="#262626" stroke-width="1.2"/>
<line x1="746.25" y1="316" x2="743.25" y2="316" stroke="#262626" stroke-width="1.2"/>
<line x1="431.22" y1="316" x2="747.23" y2="316" stroke="#262626" stroke-width="1.5"/>
<line x1="431.22" y1="510.4" x2="747.23" y2="510.4" stroke="#262626" stroke-width="1.5"/>
<line x1="432.2" y1="316" x2="432.2" y2="510.4" stroke="#262626" stroke-width="1.95"/>
<line x1="746.25" y1="316" x2="746.25" y2="510.4" stroke="#262626" stroke-width="1.95"/>
<text transform="translate(432.2 523.24) rotate(0.03) scale(1.52 1)" font-size="9.6" font-weight="bold" text-anchor="middle" fill="#262626">0.2</text>
<text transform="translate(484.54 523.24) rotate(0.03) scale(1.52 1)" font-size="9.6" font-weight="bold" text-anchor="middle" fill="#262626">0.4</text>
<text transform="translate(536.88 523.24) rotate(0.03) scale(1.52 1)" font-size="9.6" font-weight="bold" text-anchor="middle" fill="#262626">0.6</text>
<text transform="translate(589.23 523.24) rotate(0.03) scale(1.52 1)" font-size="9.6" font-weight="bold" text-anchor="middle" fill="#262626">0.8</text>
<text transform="translate(641.57 523.24) rotate(0.03) scale(1.52 1)" font-size="9.6" font-weight="bold" text-anchor="middle" fill="#262626">1</text>
<text transform="translate(693.91 523.24) rotate(0.03) scale(1.52 1)" font-size="9.6" font-weight="bold" text-anchor="middle" fill="#262626">1.2</text>
<text transform="translate(746.25 523.24) rotate(0.03) scale(1.52 1)" font-size="9.6" font-weight="bold" text-anchor="middle" fill="#262626">1.4</text>
<text transform="translate(427.7 514.29) rotate(0.03) scale(1.52 1)" font-size="9.6" font-weight="bold" text-anchor="end" fill="#262626">-1.5</text>
<text transform="translate(427.7 481.89) rotate(0.03) scale(1.52 1)" font-size="9.6" font-weight="bold" text-anchor="end" fill="#262626">-1</text>
<text transform="translate(427.7 449.49) rotate(0.03) scale(1.52 1)" font-size="9.6" font-weight="bold" text-anchor="end" fill="#262626">-0.5</text>
<text transform="translate(427.7 417.09) rotate(0.03) scale(1.52 1)" font-size="9.6" font-weight="bold" text-anchor="end" fill="#262626">0</text>
<text transform="translate(427.7 384.69) rotate(0.03) scale(1.52 1)" font-size="9.6" font-weight="bold" text-anchor="end" fill="#262626">0.5</text>
<text transform="translate(427.7 352.29) rotate(0.03) scale(1.52 1)" font-size="9.6" font-weight="bold" text-anchor="end" fill="#262626">1</text>
<text transform="translate(427.7 319.89) rotate(0.03) scale(1.52 1)" font-size="9.6" font-weight="bold" text-anchor="end" fill="#262626">1.5</text>
<text transform="translate(589 536) rotate(0.03) scale(1.5 1)" font-size="11" font-weight="bold" text-anchor="middle" fill="#262626">X (m)</text>
<text transform="translate(395 416.4) rotate(-90) scale(0.92 1)" font-size="14.5" font-weight="normal" text-anchor="middle" fill="#262626" stroke="#262626" stroke-width="0.75">Y (m)</text>
<rect x="641" y="318.2" width="100.5" height="39.3" fill="#fff"/>
<line x1="640.2" y1="318.2" x2="742.3" y2="318.2" stroke="#262626" stroke-width="1"/>
<line x1="640.2" y1="357.5" x2="742.3" y2="357.5" stroke="#262626" stroke-width="1"/>
<line x1="641" y1="318.2" x2="641" y2="357.5" stroke="#262626" stroke-width="1.6"/>
<line x1="741.5" y1="318.2" x2="741.5" y2="357.5" stroke="#262626" stroke-width="1.6"/>
<line x1="643.7" y1="324.2" x2="666.4" y2="324.2" stroke="#3a8fd0" stroke-width="1.5" stroke-opacity="1"/>
<text transform="translate(667 327.42) rotate(0.03) scale(1.32 1)" font-size="9" font-weight="bold" text-anchor="start" fill="#262626" stroke="#262626" stroke-width="0.18">NN-PIPD</text>
<line x1="643.7" y1="333.4" x2="666.4" y2="333.4" stroke="#D95319" stroke-width="0.8" stroke-opacity="1"/>
<text transform="translate(667 336.62) rotate(0.03) scale(1.32 1)" font-size="9" font-weight="bold" text-anchor="start" fill="#262626" stroke="#262626" stroke-width="0.18">NN+PID</text>
<line x1="643.7" y1="342.9" x2="666.4" y2="342.9" stroke="#EDB120" stroke-width="0.9" stroke-opacity="1"/>
<text transform="translate(667 346.12) rotate(0.03) scale(1.32 1)" font-size="9" font-weight="bold" text-anchor="start" fill="#262626" stroke="#262626" stroke-width="0.18">ELNN-PID</text>
<line x1="643.7" y1="352.6" x2="666.4" y2="352.6" stroke="#9450a5" stroke-width="1.3" stroke-opacity="1"/>
<text transform="translate(667 355.82) rotate(0.03) scale(1.32 1)" font-size="9" font-weight="bold" text-anchor="start" fill="#262626" stroke="#262626" stroke-width="0.18">Desired Path</text>
<rect x="466.5" y="372.5" width="105" height="81" fill="#fff"/>
<line x1="469.2" y1="372.5" x2="469.2" y2="453.5" stroke="#e2e2e2" stroke-width="0.8"/>
<line x1="514.75" y1="372.5" x2="514.75" y2="453.5" stroke="#e2e2e2" stroke-width="0.8"/>
<line x1="560.3" y1="372.5" x2="560.3" y2="453.5" stroke="#e2e2e2" stroke-width="0.8"/>
<line x1="466.5" y1="447.3" x2="571.5" y2="447.3" stroke="#e2e2e2" stroke-width="0.8"/>
<line x1="466.5" y1="430.57" x2="571.5" y2="430.57" stroke="#e2e2e2" stroke-width="0.8"/>
<line x1="466.5" y1="413.85" x2="571.5" y2="413.85" stroke="#e2e2e2" stroke-width="0.8"/>
<line x1="466.5" y1="397.12" x2="571.5" y2="397.12" stroke="#e2e2e2" stroke-width="0.8"/>
<line x1="466.5" y1="380.4" x2="571.5" y2="380.4" stroke="#e2e2e2" stroke-width="0.8"/>
<clipPath id="c8"><rect x="466.5" y="372.5" width="105" height="81"/></clipPath>
<g clip-path="url(#c8)">
<polyline points="692.31,331.23 688.99,331.84 685.71,332.46 682.45,333.09 679.23,333.71 676.04,334.35 672.88,334.98 669.74,335.62 666.64,336.26 663.57,336.91 660.53,337.56 657.52,338.21 654.55,338.87 651.6,339.53 648.68,340.2 645.8,340.87 642.94,341.54 640.12,342.22 637.32,342.9 634.56,343.58 631.83,344.26 629.13,344.95 626.46,345.65 623.82,346.35 621.21,347.05 618.63,347.75 616.08,348.46 613.56,349.17 611.08,349.88 608.62,350.6 606.19,351.31 603.8,352.04 601.43,352.76 599.1,353.49 596.8,354.23 594.52,354.96 592.28,355.7 590.07,356.44 587.89,357.18 585.74,357.93 583.62,358.68 581.53,359.43 579.47,360.19 577.44,360.95 575.44,361.71 573.48,362.48 571.54,363.24 569.63,364.01 567.76,364.79 565.91,365.56 564.09,366.34 562.31,367.12 560.55,367.9 558.83,368.69 557.13,369.48 555.47,370.27 553.83,371.06 552.23,371.86 550.62,372.66 548.97,373.45 547.36,374.25 545.77,375.06 544.21,375.86 542.69,376.67 541.19,377.48 539.72,378.29 538.29,379.11 536.88,379.92 535.51,380.74 534.17,381.56 532.85,382.38 531.57,383.21 530.31,384.04 529.09,384.87 527.9,385.7 526.74,386.53 525.6,387.37 524.5,388.21 523.43,389.05 522.39,389.89 521.37,390.74 520.39,391.58 519.44,392.43 518.52,393.28 517.63,394.13 516.76,394.99 515.93,395.84 515.13,396.7 514.36,397.56 513.62,398.42 512.9,399.29 512.22,400.15 511.57,401.02 510.95,401.89 510.36,402.76 509.79,403.63 509.26,404.51 508.76,405.38 508.29,406.26 507.84,407.14 507.43,408.02 507.05,408.91 506.69,409.79 506.37,410.68 506.08,411.56 505.81,412.45 505.58,413.34 505.37,414.24 505.2,415.13 505.05,416.03 504.94,416.92 504.85,417.82 504.79,418.72 504.77,419.62 504.77,420.53 504.8,421.43 504.86,422.34 504.95,423.25 505.07,424.15 505.22,425.07 505.4,425.98 505.61,426.89 505.85,427.8 506.12,428.72 506.42,429.64 506.74,430.56 507.1,431.48 507.49,432.4 507.9,433.32 508.35,434.24 508.82,435.17 509.33,436.1 509.86,437.02 510.42,437.95 511.02,438.88 511.64,439.82 512.29,440.75 512.97,441.68 513.69,442.62 514.43,443.55 515.2,444.49 516,445.43 516.84,446.37 517.7,447.31 518.59,448.25 519.52,449.2 520.48,450.14 521.48,451.09 522.5,452.04 523.56,452.99 524.64,453.95 525.75,454.9 526.89,455.86 528.05,456.81 529.24,457.77 530.46,458.73 531.7,459.69 532.98,460.65 534.27,461.61 535.6,462.58 536.95,463.54 538.33,464.51 539.74,465.47 541.17,466.44 542.63,467.41 544.12,468.38 545.63,469.35 547.17,470.32 548.73,471.29 550.33,472.27 551.94,473.24 553.59,474.22 555.26,475.19 556.96,476.17 558.68,477.15 560.43,478.13 562.21,479.11 564.01,480.09 565.84,481.08 567.69,482.06 569.57,483.04 571.48,484.03 573.41,485.02 575.37,486.01 577.36,486.99 579.36,487.98 581.4,488.97 583.46,489.97 585.55,490.96 587.66,491.95 589.8,492.95 591.96,493.94 594.15,494.94 596.36,495.94 598.6,496.94 600.87,497.94 603.16,498.94 605.47,499.94 607.81,500.94 610.18,501.95" fill="none" stroke="#D95319" stroke-width="0.75" stroke-linejoin="round"/>
<polyline points="684.93,330.89 681.61,331.51 678.33,332.13 675.08,332.75 671.85,333.38 668.66,334.01 665.5,334.65 662.36,335.29 659.26,335.93 656.19,336.57 653.15,337.23 650.15,337.88 647.17,338.54 644.22,339.2 641.3,339.86 638.42,340.53 635.56,341.21 632.74,341.88 629.95,342.56 627.18,343.24 624.45,343.93 621.75,344.62 619.08,345.31 616.44,346.01 613.83,346.71 611.25,347.41 608.7,348.12 606.18,348.83 603.7,349.54 601.24,350.26 598.82,350.98 596.42,351.7 594.06,352.43 591.72,353.16 589.42,353.89 587.15,354.63 584.9,355.36 582.69,356.11 580.51,356.85 578.36,357.6 576.24,358.35 574.15,359.1 572.09,359.86 570.06,360.62 568.07,361.38 566.1,362.14 564.16,362.91 562.25,363.68 560.38,364.45 558.53,365.23 556.71,366 554.93,366.79 553.17,367.57 551.45,368.35 549.75,369.14 548.09,369.93 546.46,370.73 544.85,371.52 543.28,372.32 541.73,373.12 540.22,373.93 538.74,374.73 537.28,375.54 535.86,376.35 534.47,377.17 533.11,377.98 531.77,378.8 530.47,379.62 529.2,380.44 527.95,381.27 526.74,382.09 525.56,382.92 524.4,383.75 523.28,384.59 522.19,385.42 521.12,386.26 520.09,387.1 519.09,387.94 518.11,388.79 517.17,389.63 516.25,390.48 515.37,391.33 514.51,392.18 513.68,393.04 512.89,393.89 512.12,394.75 511.38,395.61 510.67,396.47 510,397.34 509.35,398.2 508.73,399.07 508.14,399.94 507.58,400.81 507.04,401.68 506.54,402.56 506.07,403.43 505.62,404.31 505.21,405.19 504.82,406.07 504.47,406.96 504.14,407.84 503.84,408.73 503.57,409.62 503.33,410.51 503.12,411.4 502.94,412.29 502.78,413.18 502.66,414.08 502.56,414.98 502.5,415.88 502.46,416.78 502.45,417.68 502.47,418.59 502.51,419.49 502.59,420.4 502.7,421.31 502.83,422.22 502.99,423.13 503.18,424.04 503.4,424.96 503.65,425.87 503.92,426.79 504.23,427.71 504.56,428.63 504.92,429.55 505.31,430.47 505.73,431.39 506.17,432.32 506.64,433.25 507.15,434.17 507.68,435.1 508.23,436.03 508.82,436.97 509.43,437.9 510.07,438.83 510.74,439.77 511.44,440.71 512.16,441.64 512.92,442.58 513.7,443.52 514.5,444.47 515.34,445.41 516.2,446.35 517.09,447.3 518.01,448.24 518.96,449.19 519.93,450.14 520.93,451.09 521.96,452.04 523.01,452.99 524.09,453.95 525.2,454.9 526.34,455.86 527.5,456.81 528.69,457.77 529.91,458.73 531.16,459.69 532.43,460.65 533.73,461.61 535.05,462.58 536.41,463.54 537.79,464.51 539.19,465.47 540.62,466.44 542.08,467.41 543.57,468.38 545.08,469.35 546.62,470.32 548.19,471.29 549.78,472.27 551.4,473.24 553.04,474.22 554.71,475.19 556.41,476.17 558.14,477.15 559.89,478.13 561.66,479.11 563.46,480.09 565.29,481.08 567.15,482.06 569.03,483.04 570.93,484.03 572.87,485.02 574.82,486.01 576.81,486.99 578.82,487.98 580.85,488.97 582.91,489.97 585,490.96 587.11,491.95 589.25,492.95 591.41,493.94 593.6,494.94 595.82,495.94 598.06,496.94 600.32,497.94 602.61,498.94 604.93,499.94 607.27,500.94 609.63,501.95" fill="none" stroke="#EDB120" stroke-width="0.75" stroke-linejoin="round"/>
<polyline points="685.48,330.89 682.16,331.51 678.88,332.13 675.62,332.75 672.4,333.38 669.2,334.01 666.04,334.65 662.91,335.29 659.81,335.93 656.74,336.57 653.7,337.23 650.69,337.88 647.71,338.54 644.77,339.2 641.85,339.86 638.96,340.53 636.11,341.21 633.29,341.88 630.49,342.56 627.73,343.24 625,343.93 622.3,344.62 619.62,345.31 616.98,346.01 614.37,346.71 611.8,347.41 609.25,348.12 606.73,348.83 604.24,349.54 601.79,350.26 599.36,350.98 596.97,351.7 594.6,352.43 592.27,353.16 589.97,353.89 587.69,354.63 585.45,355.36 583.24,356.11 581.06,356.85 578.91,357.6 576.79,358.35 574.7,359.1 572.64,359.86 570.61,360.62 568.61,361.38 566.64,362.14 564.71,362.91 562.8,363.68 560.92,364.45 559.08,365.23 557.26,366 555.48,366.79 553.72,367.57 552,368.35 550.3,369.14 548.64,369.93 547,370.73 545.4,371.52 543.82,372.32 542.28,373.12 540.77,373.93 539.28,374.73 537.83,375.54 536.41,376.35 535.02,377.17 533.65,377.98 532.32,378.8 531.02,379.62 529.74,380.44 528.5,381.27 527.29,382.09 526.1,382.92 524.95,383.75 523.83,384.59 522.73,385.42 521.67,386.26 520.64,387.1 519.63,387.94 518.66,388.79 517.71,389.63 516.8,390.48 515.91,391.33 515.06,392.18 514.23,393.04 513.43,393.89 512.67,394.75 511.93,395.61 511.22,396.47 510.54,397.34 509.89,398.2 509.27,399.07 508.68,399.94 508.12,400.81 507.59,401.68 507.09,402.56 506.61,403.43 506.17,404.31 505.76,405.19 505.37,406.07 505.01,406.96 504.69,407.84 504.39,408.73 504.12,409.62 503.88,410.51 503.67,411.4 503.48,412.29 503.33,413.18 503.2,414.08 503.11,414.98 503.04,415.88 503,416.78 502.99,417.68 503.01,418.59 503.06,419.49 503.14,420.4 503.24,421.31 503.38,422.22 503.54,423.13 503.73,424.04 503.95,424.96 504.19,425.87 504.47,426.79 504.77,427.71 505.11,428.63 505.47,429.55 505.86,430.47 506.27,431.39 506.72,432.32 507.19,433.25 507.69,434.17 508.22,435.1 508.78,436.03 509.36,436.97 509.98,437.9 510.62,438.83 511.29,439.77 511.99,440.71 512.71,441.64 513.46,442.58 514.24,443.52 515.05,444.47 515.89,445.41 516.75,446.35 517.64,447.3 518.56,448.24 519.5,449.19 520.48,450.14 521.48,451.09 522.5,452.04 523.56,452.99 524.64,453.95 525.75,454.9 526.89,455.86 528.05,456.81 529.24,457.77 530.46,458.73 531.7,459.69 532.98,460.65 534.27,461.61 535.6,462.58 536.95,463.54 538.33,464.51 539.74,465.47 541.17,466.44 542.63,467.41 544.12,468.38 545.63,469.35 547.17,470.32 548.73,471.29 550.33,472.27 551.94,473.24 553.59,474.22 555.26,475.19 556.96,476.17 558.68,477.15 560.43,478.13 562.21,479.11 564.01,480.09 565.84,481.08 567.69,482.06 569.57,483.04 571.48,484.03 573.41,485.02 575.37,486.01 577.36,486.99 579.36,487.98 581.4,488.97 583.46,489.97 585.55,490.96 587.66,491.95 589.8,492.95 591.96,493.94 594.15,494.94 596.36,495.94 598.6,496.94 600.87,497.94 603.16,498.94 605.47,499.94 607.81,500.94 610.18,501.95" fill="none" stroke="#7E2F8E" stroke-width="0.75" stroke-linejoin="round"/>
</g>
<line x1="469.2" y1="453.5" x2="469.2" y2="451.5" stroke="#454545" stroke-width="0.72"/>
<line x1="469.2" y1="372.5" x2="469.2" y2="374.5" stroke="#454545" stroke-width="0.72"/>
<line x1="514.75" y1="453.5" x2="514.75" y2="451.5" stroke="#454545" stroke-width="0.72"/>
<line x1="514.75" y1="372.5" x2="514.75" y2="374.5" stroke="#454545" stroke-width="0.72"/>
<line x1="560.3" y1="453.5" x2="560.3" y2="451.5" stroke="#454545" stroke-width="0.72"/>
<line x1="560.3" y1="372.5" x2="560.3" y2="374.5" stroke="#454545" stroke-width="0.72"/>
<line x1="466.5" y1="447.3" x2="468.5" y2="447.3" stroke="#454545" stroke-width="0.72"/>
<line x1="571.5" y1="447.3" x2="569.5" y2="447.3" stroke="#454545" stroke-width="0.72"/>
<line x1="466.5" y1="430.57" x2="468.5" y2="430.57" stroke="#454545" stroke-width="0.72"/>
<line x1="571.5" y1="430.57" x2="569.5" y2="430.57" stroke="#454545" stroke-width="0.72"/>
<line x1="466.5" y1="413.85" x2="468.5" y2="413.85" stroke="#454545" stroke-width="0.72"/>
<line x1="571.5" y1="413.85" x2="569.5" y2="413.85" stroke="#454545" stroke-width="0.72"/>
<line x1="466.5" y1="397.12" x2="468.5" y2="397.12" stroke="#454545" stroke-width="0.72"/>
<line x1="571.5" y1="397.12" x2="569.5" y2="397.12" stroke="#454545" stroke-width="0.72"/>
<line x1="466.5" y1="380.4" x2="468.5" y2="380.4" stroke="#454545" stroke-width="0.72"/>
<line x1="571.5" y1="380.4" x2="569.5" y2="380.4" stroke="#454545" stroke-width="0.72"/>
<line x1="465.98" y1="372.5" x2="572.02" y2="372.5" stroke="#454545" stroke-width="0.9"/>
<line x1="465.98" y1="453.5" x2="572.02" y2="453.5" stroke="#454545" stroke-width="0.9"/>
<line x1="466.5" y1="372.5" x2="466.5" y2="453.5" stroke="#454545" stroke-width="1.03"/>
<line x1="571.5" y1="372.5" x2="571.5" y2="453.5" stroke="#454545" stroke-width="1.03"/>
<text transform="translate(469.2 463.82) rotate(0.03) scale(1.14 1)" font-size="9" font-weight="bold" text-anchor="middle" fill="#262626">0.24</text>
<text transform="translate(514.75 463.82) rotate(0.03) scale(1.14 1)" font-size="9" font-weight="bold" text-anchor="middle" fill="#262626">0.25</text>
<text transform="translate(560.3 463.82) rotate(0.03) scale(1.14 1)" font-size="9" font-weight="bold" text-anchor="middle" fill="#262626">0.26</text>
<text transform="translate(464.2 450.97) rotate(0.03) scale(1.14 1)" font-size="9" font-weight="bold" text-anchor="end" fill="#262626">1.18</text>
<text transform="translate(464.2 434.25) rotate(0.03) scale(1.14 1)" font-size="9" font-weight="bold" text-anchor="end" fill="#262626">1.19</text>
<text transform="translate(464.2 417.52) rotate(0.03) scale(1.14 1)" font-size="9" font-weight="bold" text-anchor="end" fill="#262626">1.2</text>
<text transform="translate(464.2 400.8) rotate(0.03) scale(1.14 1)" font-size="9" font-weight="bold" text-anchor="end" fill="#262626">1.21</text>
<text transform="translate(464.2 384.07) rotate(0.03) scale(1.14 1)" font-size="9" font-weight="bold" text-anchor="end" fill="#262626">1.22</text>
<text transform="translate(580.1 556) rotate(0.03)" font-size="15.6" font-weight="bold" text-anchor="middle" fill="#0d0d0d" font-family='"Liberation Serif", "Times New Roman", serif' stroke="#0d0d0d" stroke-width="0.25">(d)</text>
</g>
</svg>
</body>
</html>
